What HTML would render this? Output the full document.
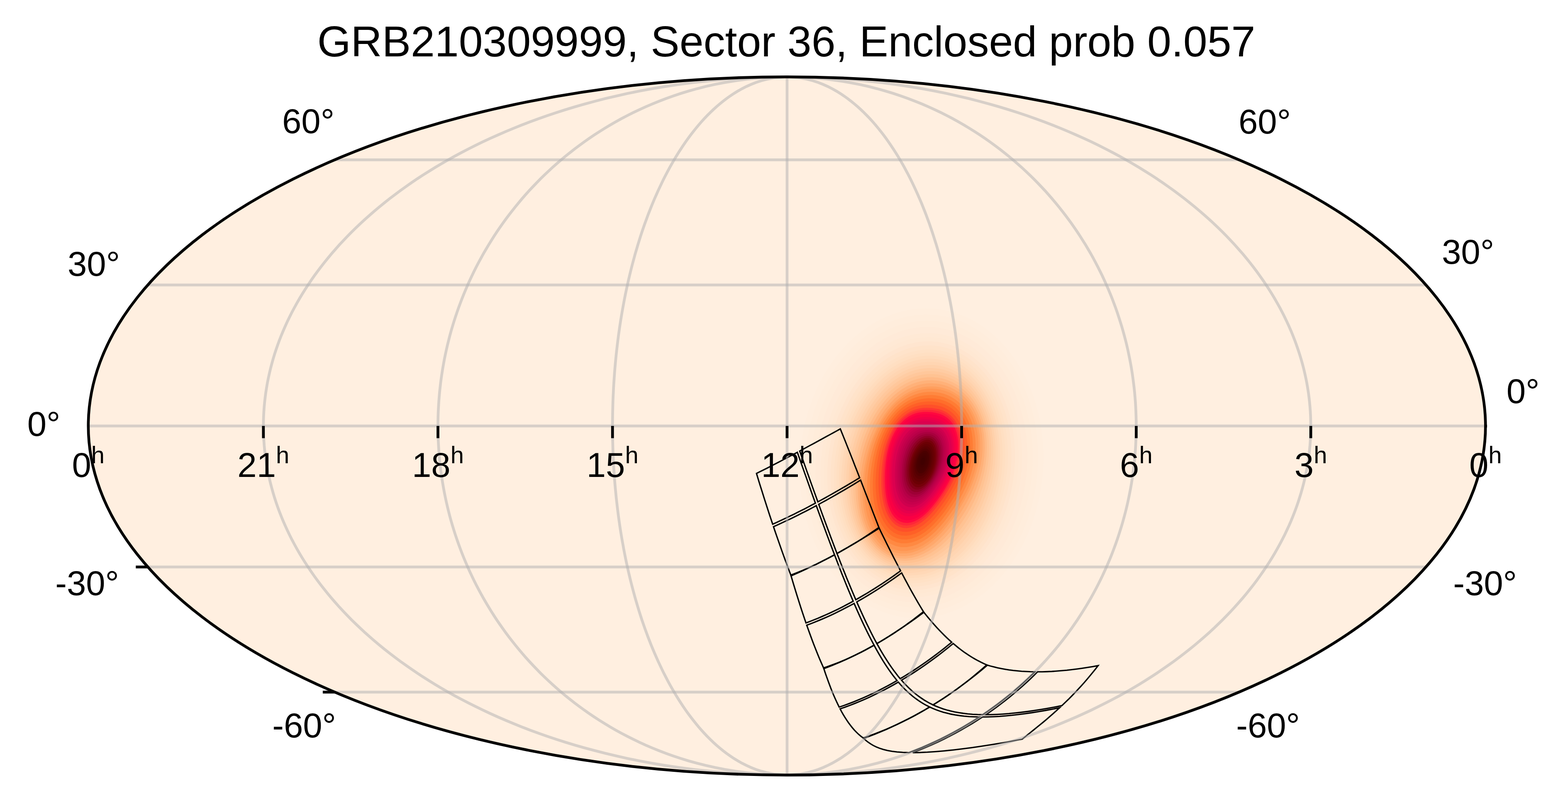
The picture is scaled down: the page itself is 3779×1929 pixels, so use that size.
<!DOCTYPE html><html lang="en"><head><meta charset="utf-8"><title>GRB210309999 skymap</title><style>html,body{margin:0;padding:0;background:#fff;font-family:"Liberation Sans",sans-serif}svg{display:block}</style></head><body>
<svg width="3779" height="1929" viewBox="0 0 3779 1929" role="img" aria-label="GRB210309999, Sector 36, Enclosed prob 0.057">
<title>GRB210309999, Sector 36, Enclosed prob 0.057</title><desc>Mollweide all-sky probability map with TESS Sector 36 camera footprint. RA ticks 0h 21h 18h 15h 12h 9h 6h 3h 0h; Dec labels 60, 30, 0, -30, -60 degrees.</desc>
<defs><clipPath id="c"><ellipse cx="1896.5" cy="1027.1" rx="1683.7" ry="841.7"/></clipPath></defs>
<rect width="3779" height="1929" fill="#fff"/>
<ellipse cx="1896.5" cy="1027.1" rx="1683.7" ry="841.7" fill="#ffefe0"/>
<g clip-path="url(#c)">
<path fill="#ffeede" d="M1928.7 1088.5L1926.9 1121.4L1927.4 1154.3L1930.1 1187L1935.2 1219.1L1942.4 1250.5L1951.9 1280.8L1963.5 1309.9L1977.1 1337.6L1992.7 1363.4L2010 1387.4L2029 1409.2L2049.6 1428.7L2071.5 1445.8L2094.5 1460.3L2118.6 1472L2143.5 1481L2168.9 1487L2194.8 1490.2L2220.8 1490.4L2246.8 1487.7L2272.6 1482.1L2298 1473.6L2322.7 1462.4L2346.6 1448.5L2369.5 1432L2391.2 1413.2L2411.6 1392L2430.5 1368.8L2447.7 1343.7L2463.2 1316.9L2476.8 1288.6L2488.5 1259.1L2498 1228.6L2505.5 1197.2L2510.9 1165.3L2514 1133.1L2515 1100.8L2513.7 1068.7L2510.3 1037L2504.8 1005.9L2497.1 975.6L2487.5 946.5L2475.8 918.6L2462.3 892.2L2447 867.5L2430.1 844.6L2411.7 823.8L2391.8 805L2370.7 788.6L2348.5 774.6L2325.4 763L2301.5 754.1L2277 747.8L2252 744.3L2226.9 743.4L2201.6 745.4L2176.5 750L2151.6 757.4L2127.3 767.5L2103.6 780.2L2080.7 795.4L2058.9 813.1L2038.2 833.1L2018.9 855.2L2001.1 879.3L1984.9 905.3L1970.5 933L1958 962.1L1947.5 992.4L1939 1023.8L1932.8 1055.9Z"/>
<path fill="#ffeddc" d="M1941.9 1087.2L1939.8 1118.9L1939.8 1150.6L1942.1 1182.1L1946.5 1213.2L1953.1 1243.5L1961.8 1273L1972.6 1301.2L1985.3 1328L1999.9 1353.1L2016.3 1376.5L2034.3 1397.7L2053.8 1416.8L2074.6 1433.5L2096.6 1447.7L2119.5 1459.2L2143.3 1468.1L2167.7 1474.2L2192.4 1477.4L2217.4 1477.8L2242.4 1475.3L2267.2 1470.1L2291.6 1462L2315.4 1451.3L2338.4 1438L2360.5 1422.2L2381.5 1404.1L2401.2 1383.7L2419.4 1361.4L2436.1 1337.2L2451.1 1311.4L2464.3 1284.2L2475.7 1255.7L2485 1226.3L2492.4 1196.1L2497.7 1165.4L2500.9 1134.3L2502 1103.2L2501.1 1072.3L2498 1041.8L2492.9 1011.9L2485.8 982.8L2476.7 954.7L2465.8 927.9L2453.1 902.5L2438.7 878.7L2422.7 856.7L2405.3 836.6L2386.5 818.5L2366.6 802.6L2345.5 789L2323.6 777.8L2300.9 769.1L2277.6 762.9L2253.9 759.3L2229.9 758.4L2205.8 760L2181.8 764.3L2158.1 771.2L2134.8 780.6L2112.1 792.6L2090.2 807L2069.2 823.7L2049.3 842.7L2030.6 863.7L2013.4 886.8L1997.7 911.6L1983.6 938L1971.3 965.8L1960.9 994.9L1952.5 1025L1946.1 1055.8Z"/>
<path fill="#ffecda" d="M1955 1085.9L1952.6 1116.4L1952.3 1146.9L1954 1177.3L1957.9 1207.3L1963.8 1236.6L1971.8 1265.1L1981.7 1292.4L1993.6 1318.4L2007.2 1342.9L2022.6 1365.5L2039.6 1386.3L2058 1404.9L2077.7 1421.2L2098.6 1435.1L2120.5 1446.5L2143.1 1455.2L2166.4 1461.3L2190.1 1464.6L2214 1465.2L2237.9 1463L2261.7 1458.1L2285.1 1450.5L2308 1440.2L2330.2 1427.5L2351.5 1412.4L2371.7 1395L2390.7 1375.5L2408.3 1354L2424.5 1330.7L2439 1305.9L2451.8 1279.7L2462.9 1252.3L2472 1224L2479.3 1195L2484.6 1165.4L2487.8 1135.6L2489.1 1105.7L2488.4 1076L2485.7 1046.6L2481 1017.9L2474.4 989.9L2466 963L2455.8 937.2L2443.9 912.8L2430.4 889.9L2415.4 868.7L2398.9 849.4L2381.2 832L2362.4 816.6L2342.5 803.5L2321.8 792.7L2300.3 784.1L2278.2 778.1L2255.7 774.4L2232.9 773.3L2210 774.7L2187.2 778.5L2164.6 784.9L2142.3 793.7L2120.6 804.9L2099.6 818.5L2079.5 834.3L2060.3 852.3L2042.4 872.3L2025.7 894.2L2010.4 917.8L1996.7 943L1984.6 969.6L1974.4 997.4L1966 1026.2L1959.5 1055.8Z"/>
<path fill="#ffead8" d="M1968.2 1084.6L1965.5 1113.8L1964.7 1143.2L1966 1172.5L1969.3 1201.4L1974.5 1229.7L1981.7 1257.2L1990.8 1283.6L2001.8 1308.8L2014.5 1332.6L2028.9 1354.6L2044.8 1374.8L2062.2 1392.9L2080.9 1408.9L2100.6 1422.5L2121.4 1433.7L2142.9 1442.4L2165.1 1448.4L2187.7 1451.8L2210.6 1452.6L2233.5 1450.6L2256.3 1446.1L2278.7 1438.9L2300.7 1429.2L2322 1417L2342.5 1402.6L2361.9 1385.9L2380.2 1367.2L2397.2 1346.6L2412.8 1324.2L2426.9 1300.4L2439.3 1275.2L2450.1 1248.9L2459 1221.7L2466.2 1193.8L2471.4 1165.5L2474.7 1136.8L2476.2 1108.1L2475.7 1079.6L2473.3 1051.5L2469.1 1023.9L2463.1 997.1L2455.3 971.2L2445.8 946.5L2434.7 923.1L2422.1 901.1L2408 880.8L2392.6 862.2L2375.9 845.4L2358.2 830.7L2339.5 818L2319.9 807.5L2299.6 799.2L2278.8 793.2L2257.5 789.5L2236 788.2L2214.3 789.3L2192.6 792.8L2171.1 798.6L2149.9 806.8L2129.2 817.3L2109.1 830.1L2089.8 844.9L2071.4 861.9L2054.1 880.8L2037.9 901.6L2023.1 924L2009.8 948L1998 973.3L1987.8 999.9L1979.4 1027.4L1972.9 1055.7Z"/>
<path fill="#ffe9d5" d="M1981.4 1083.3L1978.4 1111.3L1977.2 1139.5L1978 1167.6L1980.6 1195.4L1985.2 1222.7L1991.7 1249.3L2000 1274.9L2010 1299.3L2021.8 1322.3L2035.2 1343.7L2050.1 1363.3L2066.4 1381L2084 1396.6L2102.7 1409.9L2122.3 1420.9L2142.8 1429.5L2163.8 1435.6L2185.4 1439.1L2207.1 1440L2229 1438.3L2250.8 1434.1L2272.3 1427.3L2293.4 1418.1L2313.8 1406.5L2333.4 1392.7L2352.1 1376.8L2369.7 1358.9L2386.1 1339.1L2401.2 1317.8L2414.8 1294.9L2426.9 1270.8L2437.3 1245.5L2446 1219.5L2453 1192.7L2458.2 1165.5L2461.7 1138.1L2463.2 1110.6L2463 1083.3L2461 1056.3L2457.2 1029.9L2451.7 1004.2L2444.6 979.5L2435.8 955.8L2425.5 933.4L2413.7 912.4L2400.6 892.9L2386.2 875L2370.6 858.9L2354 844.7L2336.5 832.5L2318.1 822.3L2299 814.2L2279.4 808.3L2259.3 804.6L2239 803.1L2218.5 804L2198 807L2177.6 812.4L2157.4 819.9L2137.7 829.7L2118.6 841.6L2100.1 855.6L2082.5 871.5L2065.8 889.4L2050.2 909L2035.9 930.2L2022.9 953L2011.3 977.1L2001.3 1002.4L1992.9 1028.6L1986.3 1055.7Z"/>
<path fill="#ffe8d3" d="M1990.2 1082.4L1986.9 1109.7L1985.5 1137L1985.9 1164.4L1988.2 1191.5L1992.3 1218.1L1998.3 1244L2006 1269L2015.5 1292.9L2026.7 1315.4L2039.4 1336.4L2053.6 1355.7L2069.2 1373L2086.1 1388.4L2104 1401.5L2122.9 1412.4L2142.7 1420.9L2163 1427L2183.8 1430.5L2204.9 1431.6L2226.1 1430.1L2247.2 1426.1L2268 1419.6L2288.5 1410.7L2308.3 1399.6L2327.4 1386.2L2345.6 1370.7L2362.8 1353.4L2378.7 1334.2L2393.4 1313.4L2406.7 1291.2L2418.5 1267.8L2428.8 1243.3L2437.4 1218L2444.3 1192L2449.5 1165.6L2452.9 1138.9L2454.6 1112.2L2454.6 1085.7L2452.8 1059.5L2449.3 1033.9L2444.2 1009L2437.4 985L2429.1 962L2419.4 940.3L2408.2 919.8L2395.7 900.9L2382 883.5L2367.1 867.9L2351.2 854.1L2334.5 842.1L2316.9 832.1L2298.6 824.2L2279.8 818.4L2260.6 814.6L2241 813.1L2221.3 813.7L2201.5 816.5L2181.9 821.5L2162.5 828.7L2143.4 837.9L2124.9 849.3L2107 862.6L2089.8 877.9L2073.6 895.1L2058.4 913.9L2044.4 934.4L2031.6 956.3L2020.2 979.6L2010.2 1004L2001.9 1029.4L1995.2 1055.6Z"/>
<path fill="#ffe5cf" d="M1998.9 1081.6L1995.5 1108L1993.8 1134.6L1993.9 1161.2L1995.8 1187.6L1999.5 1213.5L2004.9 1238.8L2012.1 1263.2L2021 1286.5L2031.5 1308.5L2043.6 1329.1L2057.2 1348L2072 1365.1L2088.2 1380.2L2105.4 1393.2L2123.6 1403.9L2142.5 1412.4L2162.1 1418.4L2182.2 1422L2202.6 1423.1L2223.1 1421.8L2243.5 1418L2263.7 1411.9L2283.6 1403.3L2302.8 1392.6L2321.4 1379.6L2339.1 1364.7L2355.8 1347.8L2371.4 1329.2L2385.7 1309.1L2398.7 1287.5L2410.2 1264.8L2420.2 1241L2428.7 1216.4L2435.5 1191.2L2440.7 1165.6L2444.2 1139.7L2446 1113.9L2446.1 1088.1L2444.6 1062.8L2441.4 1037.9L2436.6 1013.8L2430.3 990.5L2422.5 968.2L2413.2 947.1L2402.6 927.3L2390.8 908.9L2377.7 892.1L2363.6 876.9L2348.4 863.4L2332.4 851.8L2315.7 842L2298.2 834.2L2280.2 828.4L2261.8 824.7L2243 823L2224.1 823.5L2205.1 826L2186.2 830.7L2167.5 837.4L2149.1 846.2L2131.2 857L2113.8 869.7L2097.2 884.3L2081.4 900.7L2066.6 918.8L2052.9 938.5L2040.3 959.6L2029.1 982.1L2019.2 1005.7L2010.9 1030.2L2004.1 1055.6Z"/>
<path fill="#ffe3ca" d="M2007.7 1080.7L2004.1 1106.3L2002.1 1132.1L2001.9 1158L2003.4 1183.6L2006.6 1208.9L2011.5 1233.5L2018.2 1257.3L2026.5 1280.1L2036.4 1301.7L2047.8 1321.8L2060.7 1340.4L2074.9 1357.1L2090.3 1372L2106.8 1384.8L2124.2 1395.4L2142.4 1403.8L2161.3 1409.8L2180.6 1413.5L2200.3 1414.7L2220.1 1413.6L2239.9 1410L2259.5 1404.1L2278.7 1396L2297.4 1385.6L2315.4 1373.1L2332.6 1358.6L2348.8 1342.3L2364 1324.3L2377.9 1304.8L2390.6 1283.9L2401.9 1261.8L2411.7 1238.8L2420 1214.9L2426.8 1190.5L2431.9 1165.6L2435.5 1140.6L2437.4 1115.5L2437.7 1090.6L2436.4 1066L2433.5 1041.9L2429 1018.5L2423.1 996L2415.8 974.4L2407.1 954L2397.1 934.8L2385.8 917L2373.5 900.6L2360 885.9L2345.7 872.8L2330.4 861.4L2314.4 851.9L2297.8 844.2L2280.6 838.5L2263 834.8L2245.1 833L2226.9 833.3L2208.7 835.5L2190.5 839.8L2172.5 846.2L2154.8 854.4L2137.5 864.7L2120.7 876.8L2104.6 890.8L2089.2 906.4L2074.8 923.8L2061.3 942.7L2049 963L2037.9 984.6L2028.2 1007.3L2019.8 1031L2013 1055.6Z"/>
<path fill="#ffe1c6" d="M2016.5 1079.8L2012.7 1104.6L2010.4 1129.6L2009.9 1154.7L2010.9 1179.7L2013.7 1204.2L2018.2 1228.3L2024.3 1251.5L2032 1273.7L2041.2 1294.8L2052 1314.5L2064.2 1332.7L2077.7 1349.2L2092.4 1363.8L2108.1 1376.4L2124.8 1386.9L2142.3 1395.2L2160.5 1401.2L2179.1 1405L2198 1406.3L2217.1 1405.4L2236.2 1402L2255.2 1396.4L2273.8 1388.6L2291.9 1378.6L2309.4 1366.5L2326 1352.6L2341.8 1336.8L2356.6 1319.4L2370.2 1300.4L2382.5 1280.2L2393.6 1258.8L2403.2 1236.5L2411.4 1213.4L2418 1189.7L2423.2 1165.7L2426.7 1141.4L2428.8 1117.1L2429.2 1093L2428.1 1069.2L2425.5 1045.9L2421.5 1023.3L2416 1001.5L2409.1 980.6L2400.9 960.8L2391.5 942.3L2380.9 925L2369.2 909.2L2356.5 894.8L2342.9 882.1L2328.4 871.1L2313.2 861.8L2297.4 854.3L2281 848.6L2264.2 844.8L2247.1 843L2229.7 843L2212.3 845L2194.9 849L2177.6 854.9L2160.5 862.7L2143.8 872.4L2127.6 883.9L2112 897.2L2097 912.1L2083 928.7L2069.8 946.8L2057.8 966.3L2046.8 987.1L2037.2 1009L2028.8 1031.8L2021.9 1055.5Z"/>
<path fill="#ffdfc2" d="M2023.1 1079.2L2019.1 1103.4L2016.7 1127.8L2015.8 1152.3L2016.6 1176.7L2019.1 1200.8L2023.1 1224.3L2028.8 1247.1L2036.1 1269L2044.9 1289.7L2055.2 1309.1L2066.8 1327L2079.8 1343.2L2093.9 1357.6L2109.1 1370.1L2125.3 1380.5L2142.2 1388.8L2159.8 1394.8L2177.9 1398.6L2196.3 1400L2214.9 1399.2L2233.5 1396L2252 1390.6L2270.1 1383L2287.8 1373.3L2304.8 1361.6L2321.2 1348L2336.6 1332.6L2351 1315.6L2364.4 1297.2L2376.5 1277.5L2387.3 1256.6L2396.8 1234.8L2404.9 1212.3L2411.5 1189.2L2416.6 1165.7L2420.2 1142L2422.3 1118.4L2422.9 1094.8L2422 1071.6L2419.6 1048.9L2415.8 1026.9L2410.6 1005.6L2404.1 985.3L2396.3 966L2387.3 947.9L2377.2 931L2366 915.6L2353.9 901.6L2340.8 889.1L2326.9 878.3L2312.3 869.2L2297.1 861.8L2281.3 856.1L2265.1 852.4L2248.6 850.4L2231.9 850.3L2215 852.2L2198.1 855.9L2181.3 861.5L2164.8 868.9L2148.5 878.2L2132.7 889.2L2117.5 902L2102.9 916.4L2089.1 932.4L2076.2 949.9L2064.3 968.8L2053.5 988.9L2043.9 1010.2L2035.6 1032.4L2028.6 1055.5Z"/>
<path fill="#ffdcbd" d="M2029.7 1078.5L2025.5 1102.1L2022.9 1125.9L2021.8 1149.9L2022.3 1173.8L2024.4 1197.3L2028.1 1220.4L2033.4 1242.7L2040.2 1264.2L2048.5 1284.5L2058.3 1303.6L2069.5 1321.2L2081.9 1337.2L2095.5 1351.5L2110.2 1363.8L2125.7 1374.1L2142.1 1382.3L2159.2 1388.4L2176.7 1392.2L2194.6 1393.7L2212.7 1393L2230.8 1390L2248.8 1384.8L2266.4 1377.5L2283.7 1368.1L2300.3 1356.7L2316.3 1343.5L2331.4 1328.5L2345.5 1311.9L2358.5 1293.9L2370.4 1274.7L2381.1 1254.4L2390.4 1233.1L2398.4 1211.1L2404.9 1188.6L2410 1165.7L2413.6 1142.7L2415.8 1119.6L2416.5 1096.7L2415.8 1074.1L2413.7 1051.9L2410.1 1030.5L2405.3 1009.7L2399.1 989.9L2391.7 971.1L2383.2 953.5L2373.5 937.1L2362.8 922L2351.2 908.3L2338.7 896.1L2325.4 885.5L2311.4 876.6L2296.8 869.3L2281.6 863.7L2266 859.9L2250.1 857.9L2234 857.7L2217.7 859.3L2201.4 862.7L2185.1 868L2169 875.1L2153.3 883.9L2137.9 894.5L2123 906.8L2108.8 920.7L2095.3 936.1L2082.6 953L2070.8 971.3L2060.1 990.8L2050.6 1011.5L2042.3 1033.1L2035.3 1055.5Z"/>
<path fill="#ffd8b7" d="M2036.3 1077.9L2032 1100.8L2029.1 1124.1L2027.8 1147.5L2028 1170.8L2029.8 1193.8L2033.1 1216.4L2037.9 1238.3L2044.3 1259.4L2052.2 1279.4L2061.5 1298.1L2072.1 1315.5L2084 1331.3L2097.1 1345.3L2111.2 1357.5L2126.2 1367.7L2142.1 1375.9L2158.5 1381.9L2175.5 1385.8L2192.9 1387.4L2210.5 1386.8L2228.1 1384L2245.5 1379.1L2262.8 1372L2279.6 1362.9L2295.8 1351.8L2311.4 1338.9L2326.1 1324.3L2339.9 1308.2L2352.7 1290.7L2364.4 1271.9L2374.8 1252.1L2384 1231.4L2391.9 1210L2398.3 1188.1L2403.4 1165.8L2407.1 1143.3L2409.3 1120.8L2410.2 1098.5L2409.6 1076.5L2407.7 1055L2404.5 1034L2399.9 1013.9L2394.1 994.6L2387.1 976.3L2379 959.1L2369.8 943.1L2359.7 928.4L2348.6 915.1L2336.6 903.2L2323.9 892.8L2310.5 884L2296.5 876.8L2281.9 871.3L2266.9 867.4L2251.6 865.3L2236.1 865L2220.4 866.4L2204.6 869.6L2188.9 874.6L2173.3 881.3L2158 889.7L2143 899.8L2128.5 911.6L2114.6 925L2101.4 939.8L2088.9 956.1L2077.4 973.8L2066.8 992.7L2057.3 1012.7L2049 1033.7L2042 1055.4Z"/>
<path fill="#ffd5b2" d="M2042.5 1079L2038.2 1101.2L2035.2 1123.8L2033.7 1146.6L2033.7 1169.3L2035.1 1191.9L2038 1214L2042.5 1235.6L2048.5 1256.4L2055.9 1276.2L2064.8 1294.8L2075.1 1312L2086.7 1327.6L2099.4 1341.5L2113.3 1353.5L2128 1363.4L2143.6 1371.2L2159.8 1376.8L2176.5 1380.2L2193.5 1381.4L2210.7 1380.3L2227.8 1377L2244.8 1371.7L2261.4 1364.3L2277.6 1355L2293.2 1343.9L2308.1 1331.2L2322.2 1316.9L2335.5 1301.2L2347.8 1284.3L2359 1266.2L2369.1 1247.1L2378.1 1227.3L2385.8 1206.7L2392.3 1185.5L2397.5 1164L2401.3 1142.3L2403.7 1120.4L2404.8 1098.7L2404.4 1077.3L2402.7 1056.2L2399.7 1035.8L2395.4 1016L2389.8 997.2L2383 979.3L2375 962.6L2366 947L2356 932.8L2345.2 920L2333.5 908.5L2321 898.6L2308 890.2L2294.3 883.4L2280.2 878.2L2265.7 874.6L2250.9 872.7L2235.8 872.5L2220.6 873.9L2205.4 877L2190.2 881.9L2175.1 888.4L2160.3 896.6L2145.9 906.5L2131.9 917.9L2118.4 930.9L2105.7 945.3L2093.7 961.1L2082.5 978.2L2072.3 996.5L2063.1 1015.9L2055 1036.2L2048.1 1057.3Z"/>
<path fill="#ffd1ab" d="M2048.7 1080.1L2044.4 1101.6L2041.3 1123.5L2039.6 1145.7L2039.3 1167.8L2040.4 1189.9L2043 1211.7L2047.1 1232.9L2052.6 1253.4L2059.7 1273L2068.2 1291.4L2078.1 1308.5L2089.3 1324L2101.8 1337.7L2115.3 1349.4L2129.9 1359.1L2145.2 1366.5L2161.1 1371.7L2177.5 1374.7L2194.2 1375.3L2210.9 1373.8L2227.6 1370.1L2244 1364.3L2260 1356.6L2275.6 1347.2L2290.6 1336.1L2304.8 1323.5L2318.4 1309.5L2331 1294.2L2342.8 1277.9L2353.6 1260.5L2363.5 1242.2L2372.2 1223.1L2379.8 1203.3L2386.3 1183L2391.5 1162.3L2395.4 1141.2L2398.1 1120.1L2399.3 1099L2399.2 1078L2397.8 1057.5L2395 1037.5L2390.8 1018.2L2385.4 999.8L2378.8 982.4L2371 966.1L2362.2 951L2352.4 937.2L2341.8 924.9L2330.3 913.9L2318.2 904.4L2305.4 896.5L2292.2 890L2278.5 885.1L2264.4 881.8L2250.1 880.1L2235.5 879.9L2220.8 881.4L2206.1 884.5L2191.5 889.2L2176.9 895.6L2162.7 903.6L2148.7 913.1L2135.2 924.2L2122.3 936.8L2110 950.8L2098.4 966.1L2087.6 982.7L2077.7 1000.4L2068.8 1019.1L2061 1038.7L2054.3 1059.1Z"/>
<path fill="#ffcca3" d="M2054.9 1081.2L2050.6 1102L2047.4 1123.3L2045.6 1144.7L2045 1166.4L2045.8 1187.9L2048 1209.3L2051.7 1230.2L2056.8 1250.4L2063.4 1269.8L2071.5 1288.1L2081.1 1305L2092 1320.3L2104.1 1333.8L2117.4 1345.3L2131.7 1354.7L2146.7 1361.8L2162.4 1366.6L2178.5 1369.1L2194.8 1369.3L2211.1 1367.2L2227.3 1363.1L2243.2 1356.9L2258.7 1349L2273.6 1339.4L2287.9 1328.2L2301.6 1315.8L2314.5 1302L2326.6 1287.2L2337.9 1271.4L2348.3 1254.7L2357.8 1237.2L2366.3 1218.9L2373.8 1200L2380.3 1180.5L2385.5 1160.5L2389.6 1140.2L2392.4 1119.7L2393.9 1099.2L2394 1078.8L2392.8 1058.8L2390.2 1039.2L2386.3 1020.4L2381.1 1002.4L2374.6 985.4L2367 969.6L2358.4 954.9L2348.8 941.7L2338.4 929.8L2327.2 919.3L2315.3 910.3L2302.9 902.7L2290 896.6L2276.8 892.1L2263.1 889L2249.3 887.4L2235.2 887.4L2221.1 888.9L2206.9 891.9L2192.7 896.6L2178.7 902.8L2165 910.5L2151.6 919.8L2138.6 930.5L2126.1 942.7L2114.2 956.3L2103.1 971.1L2092.7 987.1L2083.2 1004.2L2074.6 1022.3L2067 1041.2L2060.4 1060.9Z"/>
<path fill="#ffc79b" d="M2061.1 1082.3L2056.8 1102.4L2053.6 1123L2051.5 1143.8L2050.7 1164.9L2051.1 1186L2053 1206.9L2056.2 1227.5L2061 1247.5L2067.2 1266.7L2074.9 1284.8L2084.1 1301.5L2094.6 1316.7L2106.5 1330L2119.5 1341.3L2133.5 1350.4L2148.3 1357.1L2163.7 1361.5L2179.5 1363.5L2195.4 1363.2L2211.3 1360.7L2227.1 1356.1L2242.4 1349.6L2257.3 1341.3L2271.6 1331.5L2285.3 1320.4L2298.3 1308L2310.6 1294.6L2322.1 1280.2L2332.9 1265L2342.9 1249L2352.1 1232.2L2360.4 1214.7L2367.8 1196.6L2374.2 1177.9L2379.6 1158.7L2383.8 1139.2L2386.8 1119.4L2388.5 1099.4L2388.8 1079.6L2387.8 1060.1L2385.5 1041L2381.7 1022.6L2376.7 1005L2370.4 988.5L2363 973L2354.6 958.9L2345.2 946.1L2335 934.7L2324 924.7L2312.5 916.1L2300.4 909L2287.9 903.3L2275 899L2261.9 896.2L2248.5 894.8L2234.9 894.8L2221.3 896.4L2207.6 899.4L2194 903.9L2180.6 909.9L2167.3 917.4L2154.4 926.4L2141.9 936.9L2129.9 948.7L2118.5 961.8L2107.8 976.1L2097.8 991.6L2088.7 1008.1L2080.4 1025.5L2073 1043.7L2066.6 1062.7Z"/>
<path fill="#ffc292" d="M2067.4 1083.4L2063 1102.8L2059.7 1122.7L2057.4 1142.9L2056.3 1163.4L2056.5 1184L2057.9 1204.5L2060.8 1224.7L2065.1 1244.5L2070.9 1263.5L2078.3 1281.4L2087.1 1298L2097.3 1313L2108.9 1326.2L2121.6 1337.2L2135.3 1346L2149.9 1352.4L2165 1356.4L2180.5 1358L2196 1357.2L2211.6 1354.2L2226.8 1349.1L2241.6 1342.2L2256 1333.7L2269.7 1323.7L2282.7 1312.5L2295.1 1300.3L2306.7 1287.2L2317.7 1273.3L2328 1258.6L2337.5 1243.2L2346.4 1227.2L2354.5 1210.6L2361.8 1193.3L2368.2 1175.4L2373.6 1157L2378 1138.1L2381.1 1119L2383.1 1099.7L2383.6 1080.4L2382.9 1061.3L2380.7 1042.7L2377.2 1024.7L2372.4 1007.6L2366.3 991.5L2359 976.5L2350.8 962.8L2341.6 950.5L2331.6 939.6L2320.9 930L2309.6 921.9L2297.9 915.2L2285.8 909.9L2273.3 905.9L2260.6 903.3L2247.7 902.1L2234.7 902.3L2221.5 903.8L2208.4 906.8L2195.3 911.2L2182.4 917.1L2169.6 924.4L2157.2 933.1L2145.2 943.2L2133.7 954.6L2122.8 967.3L2112.5 981.1L2102.9 996L2094.1 1011.9L2086.1 1028.7L2079 1046.2L2072.7 1064.5Z"/>
<path fill="#ffba87" d="M2073.6 1084.5L2069.2 1103.2L2065.8 1122.4L2063.3 1142L2062 1161.9L2061.8 1182L2062.9 1202.1L2065.4 1222L2069.3 1241.5L2074.7 1260.3L2081.6 1278.1L2090.1 1294.5L2100 1309.4L2111.2 1322.4L2123.7 1333.2L2137.2 1341.7L2151.4 1347.8L2166.3 1351.3L2181.4 1352.4L2196.7 1351.1L2211.8 1347.6L2226.6 1342.1L2240.9 1334.8L2254.6 1326L2267.7 1315.9L2280.1 1304.7L2291.8 1292.6L2302.8 1279.7L2313.2 1266.3L2323 1252.2L2332.2 1237.5L2340.7 1222.2L2348.6 1206.4L2355.8 1189.9L2362.2 1172.9L2367.7 1155.2L2372.2 1137.1L2375.5 1118.6L2377.6 1099.9L2378.4 1081.2L2377.9 1062.6L2376 1044.5L2372.6 1026.9L2368 1010.2L2362.1 994.5L2355 980L2346.9 966.8L2337.9 954.9L2328.2 944.5L2317.7 935.4L2306.8 927.7L2295.4 921.4L2283.6 916.5L2271.6 912.8L2259.4 910.5L2246.9 909.5L2234.4 909.7L2221.8 911.3L2209.2 914.3L2196.6 918.6L2184.2 924.2L2172 931.3L2160.1 939.7L2148.6 949.5L2137.5 960.5L2127.1 972.8L2117.2 986.1L2108 1000.5L2099.6 1015.7L2091.9 1031.9L2085 1048.7L2078.8 1066.3Z"/>
<path fill="#ffb179" d="M2079.8 1085.6L2075.4 1103.6L2071.9 1122.1L2069.2 1141.1L2067.6 1160.4L2067.1 1180L2067.9 1199.7L2069.9 1219.3L2073.4 1238.5L2078.4 1257.1L2085 1274.7L2093.1 1291L2102.6 1305.7L2113.6 1318.5L2125.8 1329.1L2139 1337.4L2153 1343.1L2167.6 1346.2L2182.4 1346.9L2197.3 1345.1L2212 1341.1L2226.3 1335.1L2240.1 1327.5L2253.2 1318.3L2265.7 1308L2277.5 1296.8L2288.5 1284.9L2299 1272.3L2308.8 1259.3L2318.1 1245.7L2326.8 1231.8L2335 1217.3L2342.7 1202.2L2349.8 1186.6L2356.2 1170.3L2361.7 1153.5L2366.3 1136.1L2369.9 1118.3L2372.2 1100.2L2373.3 1082L2372.9 1063.9L2371.2 1046.2L2368.1 1029.1L2363.6 1012.8L2357.9 997.6L2351 983.5L2343.1 970.8L2334.3 959.4L2324.8 949.4L2314.6 940.8L2303.9 933.6L2292.9 927.7L2281.5 923.1L2269.9 919.8L2258.1 917.7L2246.1 916.8L2234.1 917.2L2222 918.8L2209.9 921.7L2197.9 925.9L2186 931.4L2174.3 938.2L2162.9 946.4L2151.9 955.8L2141.4 966.5L2131.4 978.2L2121.9 991.1L2113.1 1004.9L2105 1019.6L2097.6 1035.1L2090.9 1051.3L2085 1068.1Z"/>
<path fill="#ffa86c" d="M2086 1086.7L2081.6 1104L2078 1121.8L2075.2 1140.2L2073.3 1159L2072.5 1178.1L2072.8 1197.3L2074.5 1216.6L2077.6 1235.6L2082.2 1253.9L2088.3 1271.4L2096.1 1287.5L2105.3 1302.1L2116 1314.7L2127.9 1325.1L2140.8 1333L2154.6 1338.4L2168.9 1341.1L2183.4 1341.3L2197.9 1339L2212.2 1334.6L2226.1 1328.2L2239.3 1320.1L2251.9 1310.7L2263.7 1300.2L2274.8 1289L2285.3 1277.1L2295.1 1264.9L2304.3 1252.3L2313.1 1239.3L2321.5 1226L2329.4 1212.3L2336.8 1198L2343.8 1183.2L2350.1 1167.8L2355.8 1151.7L2360.5 1135.1L2364.2 1117.9L2366.8 1100.4L2368.1 1082.7L2368 1065.2L2366.5 1047.9L2363.6 1031.3L2359.3 1015.4L2353.8 1000.6L2347 987L2339.3 974.7L2330.7 963.8L2321.4 954.3L2311.5 946.1L2301.1 939.4L2290.4 933.9L2279.4 929.7L2268.2 926.7L2256.8 924.9L2245.4 924.2L2233.8 924.6L2222.2 926.3L2210.7 929.1L2199.2 933.2L2187.8 938.6L2176.6 945.2L2165.8 953L2155.3 962.1L2145.2 972.4L2135.6 983.7L2126.6 996.1L2118.3 1009.3L2110.5 1023.4L2103.4 1038.3L2096.9 1053.8L2091.1 1069.9Z"/>
<path fill="#ff9f5e" d="M2092.1 1087.5L2087.8 1104.1L2084.2 1121.3L2081.3 1139L2079.3 1157.2L2078.3 1175.7L2078.4 1194.4L2079.8 1213.1L2082.5 1231.6L2086.7 1249.6L2092.5 1266.7L2099.8 1282.6L2108.6 1296.9L2118.8 1309.2L2130.3 1319.4L2142.8 1327L2156.1 1332.1L2170 1334.6L2184.1 1334.5L2198.2 1332L2212 1327.3L2225.3 1320.7L2238 1312.5L2250 1303L2261.3 1292.6L2271.8 1281.5L2281.7 1269.9L2290.9 1258L2299.7 1245.8L2308 1233.4L2316 1220.8L2323.6 1207.7L2330.8 1194.2L2337.7 1180.2L2343.9 1165.5L2349.5 1150.2L2354.3 1134.2L2358.2 1117.8L2360.9 1100.9L2362.3 1083.8L2362.4 1066.8L2361.1 1050.1L2358.5 1034L2354.4 1018.6L2349.1 1004.3L2342.7 991.1L2335.2 979.3L2326.9 968.8L2317.9 959.8L2308.3 952.1L2298.3 945.7L2288 940.6L2277.5 936.7L2266.7 934L2255.9 932.3L2244.9 931.7L2233.9 932.2L2222.9 933.8L2211.9 936.5L2200.9 940.3L2190 945.4L2179.3 951.6L2168.9 959.1L2158.8 967.8L2149.2 977.6L2140 988.5L2131.3 1000.3L2123.3 1013.1L2115.8 1026.6L2109 1040.9L2102.7 1055.8L2097.1 1071.4Z"/>
<path fill="#ff9653" d="M2096 1087.6L2091.9 1103.9L2088.4 1120.7L2085.7 1137.9L2083.8 1155.6L2082.9 1173.5L2083 1191.7L2084.3 1209.8L2086.9 1227.8L2090.9 1245.2L2096.3 1261.8L2103.2 1277.3L2111.6 1291.3L2121.4 1303.4L2132.4 1313.3L2144.4 1320.9L2157.2 1325.9L2170.6 1328.4L2184.2 1328.4L2197.8 1326L2211.2 1321.5L2224.1 1315.1L2236.4 1307.1L2248.1 1297.8L2259 1287.7L2269.3 1276.9L2278.9 1265.6L2287.9 1254.1L2296.4 1242.3L2304.5 1230.2L2312.3 1217.9L2319.7 1205.3L2326.7 1192.2L2333.4 1178.6L2339.5 1164.3L2345 1149.4L2349.8 1133.9L2353.6 1117.9L2356.3 1101.5L2357.8 1084.9L2358 1068.4L2356.8 1052.1L2354.3 1036.4L2350.5 1021.5L2345.5 1007.5L2339.3 994.7L2332.2 983.2L2324.2 973L2315.5 964.2L2306.3 956.8L2296.7 950.6L2286.7 945.6L2276.5 941.9L2266.2 939.2L2255.7 937.5L2245.2 936.9L2234.6 937.3L2223.9 938.7L2213.2 941.2L2202.6 944.7L2192 949.5L2181.6 955.4L2171.4 962.4L2161.5 970.7L2152 980.1L2143 990.6L2134.5 1002.2L2126.5 1014.6L2119.1 1027.9L2112.4 1041.9L2106.3 1056.6L2100.8 1071.8Z"/>
<path fill="#ff8942" d="M2101.9 1087.8L2098 1103.6L2094.8 1119.7L2092.3 1136.3L2090.6 1153.1L2089.8 1170.3L2089.9 1187.6L2091 1204.9L2093.4 1222L2097 1238.6L2102 1254.6L2108.4 1269.4L2116.1 1282.8L2125.2 1294.6L2135.5 1304.2L2146.8 1311.6L2158.8 1316.6L2171.4 1319.2L2184.3 1319.3L2197.3 1317L2210 1312.7L2222.3 1306.6L2234.1 1299L2245.2 1290.1L2255.7 1280.4L2265.4 1270L2274.6 1259.3L2283.2 1248.2L2291.4 1236.9L2299.2 1225.4L2306.6 1213.7L2313.8 1201.6L2320.6 1189.1L2327 1176.1L2332.9 1162.5L2338.3 1148.3L2342.9 1133.5L2346.6 1118.2L2349.4 1102.5L2350.9 1086.6L2351.3 1070.8L2350.4 1055.2L2348.2 1040.1L2344.7 1025.8L2340 1012.4L2334.3 1000.1L2327.6 989.1L2320.1 979.3L2311.9 970.9L2303.2 963.8L2294.1 957.9L2284.7 953.2L2275.1 949.6L2265.3 947L2255.5 945.4L2245.5 944.7L2235.5 945L2225.4 946.1L2215.3 948.2L2205.1 951.4L2195.1 955.6L2185 960.9L2175.2 967.4L2165.6 975.1L2156.3 983.9L2147.5 993.9L2139.1 1004.9L2131.3 1016.9L2124.1 1029.8L2117.6 1043.4L2111.7 1057.7L2106.5 1072.5Z"/>
<path fill="#ff7c34" d="M2107.8 1088L2104.1 1103.2L2101.2 1118.8L2098.9 1134.6L2097.4 1150.7L2096.6 1167L2096.7 1183.5L2097.8 1199.9L2099.9 1216.2L2103.2 1232L2107.7 1247.3L2113.5 1261.5L2120.7 1274.4L2129 1285.7L2138.6 1295.1L2149.1 1302.4L2160.4 1307.3L2172.3 1309.9L2184.5 1310.1L2196.7 1308.1L2208.8 1304L2220.5 1298.2L2231.7 1290.9L2242.3 1282.4L2252.3 1273.1L2261.6 1263.2L2270.4 1252.9L2278.6 1242.3L2286.4 1231.6L2293.9 1220.6L2301 1209.4L2307.9 1198L2314.4 1186L2320.6 1173.6L2326.4 1160.7L2331.5 1147.1L2336 1133L2339.7 1118.4L2342.5 1103.4L2344.1 1088.3L2344.6 1073.2L2343.9 1058.3L2342 1043.8L2338.8 1030.1L2334.6 1017.3L2329.3 1005.6L2323 995L2316 985.6L2308.4 977.6L2300.2 970.8L2291.6 965.2L2282.8 960.8L2273.7 957.3L2264.5 954.9L2255.2 953.3L2245.8 952.6L2236.4 952.7L2226.9 953.6L2217.3 955.3L2207.7 958L2198.1 961.7L2188.5 966.5L2179 972.4L2169.7 979.4L2160.6 987.7L2152 997.2L2143.8 1007.7L2136.2 1019.2L2129.1 1031.7L2122.8 1044.9L2117.1 1058.8L2112.1 1073.2Z"/>
<path fill="#ff6e2b" d="M2113.6 1088.2L2110.3 1102.9L2107.6 1117.8L2105.5 1133L2104.2 1148.3L2103.5 1163.8L2103.6 1179.4L2104.5 1194.9L2106.4 1210.4L2109.3 1225.5L2113.4 1240L2118.7 1253.6L2125.2 1266L2132.9 1276.9L2141.7 1286.1L2151.5 1293.2L2162 1298L2173.2 1300.6L2184.6 1300.9L2196.2 1299.1L2207.6 1295.2L2218.7 1289.7L2229.4 1282.8L2239.4 1274.7L2248.9 1265.8L2257.8 1256.3L2266.2 1246.5L2274 1236.5L2281.5 1226.2L2288.6 1215.8L2295.4 1205.2L2302 1194.3L2308.3 1183L2314.2 1171.2L2319.8 1158.9L2324.8 1146L2329.2 1132.6L2332.8 1118.7L2335.6 1104.4L2337.3 1090L2337.9 1075.5L2337.4 1061.3L2335.8 1047.6L2333 1034.5L2329.1 1022.2L2324.2 1011L2318.5 1000.9L2311.9 992L2304.8 984.3L2297.1 977.8L2289.1 972.5L2280.8 968.3L2272.3 965.1L2263.7 962.7L2255 961.2L2246.2 960.4L2237.3 960.3L2228.4 961L2219.4 962.4L2210.3 964.6L2201.1 967.8L2191.9 972L2182.8 977.3L2173.7 983.8L2164.9 991.5L2156.5 1000.4L2148.5 1010.4L2141 1021.5L2134.1 1033.6L2127.9 1046.4L2122.5 1059.8L2117.7 1073.8Z"/>
<path fill="#ff6027" d="M2119.5 1088.4L2116.4 1102.5L2114 1116.9L2112.1 1131.3L2110.9 1145.9L2110.3 1160.5L2110.4 1175.3L2111.3 1190L2112.9 1204.6L2115.5 1218.9L2119.1 1232.7L2123.8 1245.7L2129.7 1257.6L2136.7 1268.1L2144.8 1277L2153.8 1283.9L2163.6 1288.7L2174 1291.3L2184.8 1291.8L2195.6 1290.1L2206.4 1286.5L2216.9 1281.3L2227 1274.7L2236.6 1267L2245.6 1258.5L2254 1249.5L2261.9 1240.2L2269.4 1230.6L2276.5 1220.9L2283.3 1211L2289.8 1201L2296.1 1190.6L2302.1 1179.9L2307.8 1168.7L2313.2 1157.1L2318 1144.8L2322.3 1132.1L2325.9 1118.9L2328.6 1105.4L2330.5 1091.6L2331.2 1077.9L2331 1064.4L2329.6 1051.3L2327.1 1038.8L2323.6 1027.1L2319.2 1016.4L2313.9 1006.7L2307.9 998.3L2301.2 991L2294.1 984.9L2286.6 979.9L2278.8 975.9L2270.9 972.8L2262.8 970.6L2254.7 969.1L2246.5 968.2L2238.2 968L2229.9 968.4L2221.4 969.5L2212.8 971.3L2204.1 973.9L2195.3 977.6L2186.5 982.3L2177.8 988.2L2169.2 995.3L2161 1003.7L2153.1 1013.2L2145.8 1023.8L2139.1 1035.5L2133.1 1047.9L2127.8 1060.9L2123.3 1074.5Z"/>
<path fill="#ff5029" d="M2125.4 1088.6L2122.5 1102.2L2120.3 1115.9L2118.7 1129.7L2117.7 1143.5L2117.2 1157.3L2117.3 1171.2L2118 1185L2119.4 1198.8L2121.7 1212.3L2124.8 1225.4L2129 1237.8L2134.2 1249.2L2140.6 1259.3L2147.9 1267.9L2156.2 1274.7L2165.2 1279.4L2174.9 1282.1L2184.9 1282.6L2195.1 1281.1L2205.2 1277.8L2215.1 1272.8L2224.6 1266.6L2233.7 1259.3L2242.2 1251.2L2250.2 1242.7L2257.7 1233.8L2264.8 1224.7L2271.5 1215.5L2278 1206.2L2284.2 1196.7L2290.2 1186.9L2295.9 1176.8L2301.4 1166.3L2306.6 1155.2L2311.3 1143.7L2315.5 1131.6L2319 1119.1L2321.7 1106.3L2323.6 1093.3L2324.6 1080.3L2324.5 1067.4L2323.4 1055L2321.3 1043.1L2318.2 1032L2314.2 1021.8L2309.3 1012.6L2303.8 1004.6L2297.6 997.7L2291 991.9L2284 987.2L2276.8 983.4L2269.5 980.6L2262 978.5L2254.4 977L2246.8 976.1L2239.2 975.7L2231.4 975.8L2223.4 976.5L2215.4 977.9L2207.1 980.1L2198.8 983.1L2190.3 987.3L2181.9 992.6L2173.5 999.1L2165.5 1006.9L2157.8 1016L2150.6 1026.2L2144.1 1037.4L2138.3 1049.4L2133.2 1062L2128.9 1075.2Z"/>
<path fill="#ff3931" d="M2131.3 1088.8L2128.7 1101.9L2126.7 1115L2125.3 1128L2124.5 1141L2124.1 1154.1L2124.1 1167.1L2124.7 1180L2125.9 1193L2127.8 1205.7L2130.5 1218.1L2134.2 1229.9L2138.8 1240.8L2144.4 1250.5L2151 1258.8L2158.5 1265.4L2166.8 1270.1L2175.8 1272.8L2185.1 1273.4L2194.6 1272.1L2204.1 1269L2213.3 1264.4L2222.3 1258.4L2230.8 1251.5L2238.8 1243.9L2246.4 1235.8L2253.5 1227.4L2260.2 1218.9L2266.5 1210.2L2272.7 1201.4L2278.6 1192.5L2284.3 1183.3L2289.8 1173.8L2295 1163.8L2300 1153.4L2304.5 1142.5L2308.6 1131.2L2312.1 1119.4L2314.8 1107.3L2316.8 1095L2317.9 1082.7L2318 1070.5L2317.2 1058.7L2315.4 1047.4L2312.7 1036.9L2309.1 1027.2L2304.7 1018.5L2299.7 1010.9L2294 1004.4L2287.9 998.9L2281.5 994.5L2274.9 991L2268 988.3L2261.2 986.3L2254.2 984.9L2247.2 983.9L2240.1 983.4L2232.9 983.3L2225.5 983.6L2217.9 984.5L2210.1 986.2L2202.2 988.7L2194.1 992.2L2185.9 996.9L2177.9 1002.9L2170 1010.2L2162.5 1018.7L2155.5 1028.5L2149.1 1039.2L2143.5 1050.9L2138.6 1063.1L2134.5 1075.8Z"/>
<path fill="#ff2639" d="M2135.2 1088.9L2132.8 1101.6L2131 1114.3L2129.8 1126.9L2129 1139.4L2128.6 1151.9L2128.7 1164.3L2129.2 1176.7L2130.3 1189.1L2131.9 1201.3L2134.3 1213.2L2137.6 1224.6L2141.8 1235.2L2147 1244.7L2153.1 1252.8L2160.1 1259.3L2167.9 1263.9L2176.3 1266.6L2185.2 1267.3L2194.2 1266.1L2203.3 1263.2L2212.1 1258.7L2220.7 1253L2228.9 1246.4L2236.6 1239L2243.8 1231.2L2250.6 1223.2L2257.1 1215L2263.2 1206.6L2269.1 1198.2L2274.8 1189.6L2280.3 1180.8L2285.7 1171.7L2290.8 1162.2L2295.6 1152.2L2300 1141.8L2304 1130.9L2307.5 1119.6L2310.2 1107.9L2312.3 1096.1L2313.4 1084.2L2313.7 1072.5L2313.1 1061.1L2311.5 1050.3L2309.1 1040.1L2305.8 1030.8L2301.7 1022.4L2297 1015.1L2291.7 1008.8L2285.9 1003.6L2279.8 999.4L2273.5 996L2267.1 993.5L2260.6 991.5L2254 990.1L2247.4 989.1L2240.7 988.5L2233.9 988.2L2226.8 988.3L2219.6 989L2212.2 990.3L2204.5 992.4L2196.6 995.5L2188.6 999.8L2180.7 1005.4L2173 1012.3L2165.6 1020.6L2158.7 1030L2152.4 1040.5L2146.9 1051.9L2142.2 1063.9L2138.3 1076.3Z"/>
<path fill="#ff083f" d="M2138.8 1089.8L2136.5 1102L2134.8 1114.1L2133.7 1126.2L2132.9 1138.2L2132.6 1150.2L2132.7 1162.1L2133.2 1174L2134.1 1185.8L2135.7 1197.6L2138 1209L2141.1 1219.9L2145.1 1230.1L2150 1239.2L2155.9 1247L2162.6 1253.2L2170.1 1257.7L2178.1 1260.3L2186.6 1261L2195.3 1259.8L2204 1257L2212.5 1252.7L2220.7 1247.3L2228.5 1240.9L2235.9 1233.9L2242.8 1226.4L2249.4 1218.6L2255.6 1210.7L2261.5 1202.8L2267.1 1194.7L2272.6 1186.5L2277.9 1178L2283 1169.3L2287.9 1160.1L2292.5 1150.6L2296.8 1140.6L2300.7 1130.1L2304 1119.3L2306.6 1108.1L2308.6 1096.7L2309.7 1085.4L2310 1074.1L2309.4 1063.2L2307.9 1052.8L2305.6 1043L2302.4 1034.1L2298.5 1026.1L2294 1019L2288.9 1013L2283.4 1008L2277.6 1004L2271.6 1000.8L2265.4 998.3L2259.2 996.4L2252.9 995.1L2246.6 994.1L2240.1 993.5L2233.6 993.2L2226.9 993.3L2219.9 993.9L2212.8 995.1L2205.4 997.1L2197.9 1000.1L2190.2 1004.2L2182.6 1009.6L2175.1 1016.2L2168 1024.1L2161.4 1033.1L2155.4 1043.2L2150.1 1054.1L2145.6 1065.7L2141.8 1077.6Z"/>
<path fill="#fa0043" d="M2142.4 1090.7L2140.2 1102.4L2138.6 1114L2137.5 1125.6L2136.8 1137.1L2136.5 1148.5L2136.6 1159.9L2137 1171.3L2138 1182.7L2139.5 1193.9L2141.7 1204.8L2144.6 1215.3L2148.5 1225L2153.2 1233.7L2158.8 1241.2L2165.2 1247.2L2172.4 1251.4L2180.1 1253.9L2188.2 1254.6L2196.5 1253.5L2204.8 1250.8L2213 1246.7L2220.8 1241.5L2228.3 1235.4L2235.4 1228.6L2242 1221.5L2248.3 1214L2254.2 1206.5L2259.9 1198.9L2265.3 1191.1L2270.5 1183.2L2275.6 1175.2L2280.5 1166.8L2285.2 1158.1L2289.6 1148.9L2293.7 1139.3L2297.4 1129.3L2300.6 1118.9L2303.1 1108.2L2305 1097.4L2306.1 1086.5L2306.3 1075.7L2305.8 1065.3L2304.3 1055.3L2302.1 1045.9L2299.1 1037.4L2295.4 1029.7L2291 1022.9L2286.2 1017.2L2280.9 1012.4L2275.3 1008.5L2269.6 1005.4L2263.7 1003.1L2257.7 1001.3L2251.7 1000L2245.6 999.1L2239.4 998.5L2233.2 998.2L2226.7 998.3L2220.1 998.9L2213.3 1000L2206.2 1002L2199 1004.8L2191.6 1008.8L2184.4 1013.9L2177.2 1020.2L2170.4 1027.8L2164.1 1036.5L2158.3 1046.1L2153.2 1056.6L2148.9 1067.6L2145.3 1079Z"/>
<path fill="#f00048" d="M2147.9 1092L2145.8 1102.9L2144.3 1113.8L2143.3 1124.6L2142.6 1135.3L2142.3 1146L2142.4 1156.7L2142.8 1167.3L2143.7 1177.9L2145.1 1188.3L2147.2 1198.6L2149.9 1208.3L2153.5 1217.4L2157.9 1225.5L2163.1 1232.5L2169.1 1238.1L2175.8 1242.1L2183 1244.4L2190.6 1245L2198.3 1244L2206.1 1241.5L2213.7 1237.7L2221 1232.8L2228 1227.1L2234.6 1220.8L2240.8 1214.1L2246.7 1207.2L2252.2 1200.1L2257.5 1193L2262.5 1185.8L2267.4 1178.4L2272.1 1170.9L2276.7 1163.1L2281.1 1154.9L2285.2 1146.4L2289.1 1137.4L2292.5 1128.1L2295.4 1118.4L2297.8 1108.4L2299.6 1098.3L2300.6 1088.1L2300.8 1078.1L2300.3 1068.3L2299 1059L2296.9 1050.3L2294.1 1042.3L2290.6 1035.1L2286.6 1028.8L2282 1023.4L2277.1 1019L2271.9 1015.3L2266.5 1012.5L2261 1010.3L2255.4 1008.6L2249.8 1007.4L2244.2 1006.6L2238.4 1006L2232.6 1005.7L2226.6 1005.8L2220.4 1006.4L2214 1007.4L2207.4 1009.2L2200.6 1011.9L2193.8 1015.6L2187 1020.4L2180.3 1026.3L2174 1033.3L2168.1 1041.4L2162.7 1050.4L2157.9 1060.2L2153.9 1070.5L2150.6 1081.2Z"/>
<path fill="#e6004c" d="M2151.5 1092.9L2149.6 1103.3L2148.1 1113.7L2147.1 1124L2146.5 1134.2L2146.2 1144.3L2146.3 1154.5L2146.7 1164.6L2147.5 1174.7L2148.9 1184.7L2150.8 1194.4L2153.5 1203.7L2156.9 1212.3L2161.1 1220.1L2166 1226.7L2171.8 1232L2178.1 1235.8L2185 1238L2192.2 1238.6L2199.6 1237.7L2206.9 1235.3L2214.2 1231.6L2221.2 1227L2227.8 1221.6L2234.1 1215.6L2240 1209.2L2245.6 1202.6L2250.9 1195.9L2255.9 1189.1L2260.7 1182.2L2265.3 1175.2L2269.8 1168L2274.2 1160.6L2278.4 1152.8L2282.3 1144.7L2286 1136.2L2289.2 1127.3L2292 1118L2294.3 1108.5L2296 1098.9L2296.9 1089.2L2297.2 1079.6L2296.7 1070.3L2295.4 1061.5L2293.4 1053.2L2290.7 1045.5L2287.4 1038.7L2283.6 1032.7L2279.3 1027.6L2274.6 1023.3L2269.6 1019.9L2264.5 1017.2L2259.3 1015.1L2253.9 1013.5L2248.6 1012.4L2243.2 1011.5L2237.7 1011L2232.2 1010.8L2226.4 1010.8L2220.5 1011.3L2214.5 1012.4L2208.2 1014.1L2201.7 1016.6L2195.2 1020.1L2188.8 1024.7L2182.4 1030.3L2176.4 1037L2170.7 1044.7L2165.6 1053.3L2161.1 1062.6L2157.2 1072.4L2154.1 1082.6Z"/>
<path fill="#dc004f" d="M2155.1 1093.8L2153.3 1103.7L2151.9 1113.5L2151 1123.3L2150.4 1133L2150.1 1142.7L2150.2 1152.3L2150.6 1161.9L2151.4 1171.5L2152.6 1181L2154.5 1190.2L2157 1199L2160.2 1207.3L2164.2 1214.6L2168.9 1220.9L2174.4 1226L2180.4 1229.6L2186.9 1231.7L2193.8 1232.2L2200.8 1231.3L2207.8 1229.1L2214.7 1225.6L2221.3 1221.2L2227.6 1216L2233.6 1210.3L2239.2 1204.3L2244.5 1198L2249.5 1191.6L2254.3 1185.2L2258.9 1178.7L2263.3 1172L2267.6 1165.2L2271.7 1158.1L2275.7 1150.7L2279.4 1143L2282.9 1134.9L2286 1126.5L2288.6 1117.7L2290.8 1108.6L2292.4 1099.5L2293.3 1090.3L2293.5 1081.2L2293 1072.4L2291.9 1063.9L2290 1056.1L2287.4 1048.8L2284.3 1042.3L2280.6 1036.6L2276.5 1031.8L2272 1027.7L2267.3 1024.4L2262.5 1021.9L2257.5 1019.9L2252.5 1018.4L2247.4 1017.3L2242.2 1016.5L2237 1016L2231.8 1015.8L2226.3 1015.8L2220.7 1016.3L2214.9 1017.3L2209 1018.9L2202.9 1021.3L2196.7 1024.7L2190.5 1029L2184.5 1034.3L2178.8 1040.7L2173.4 1048.1L2168.5 1056.2L2164.2 1065L2160.6 1074.4L2157.6 1084Z"/>
<path fill="#cf004e" d="M2161.6 1095.4L2159.8 1104.4L2158.5 1113.5L2157.5 1122.5L2156.9 1131.4L2156.6 1140.3L2156.5 1149.2L2156.9 1158.1L2157.6 1166.9L2158.7 1175.6L2160.4 1184.1L2162.7 1192.2L2165.6 1199.7L2169.2 1206.5L2173.5 1212.3L2178.4 1217L2183.8 1220.4L2189.7 1222.4L2195.9 1223.1L2202.2 1222.4L2208.6 1220.5L2214.9 1217.6L2221 1213.7L2226.8 1209.2L2232.4 1204.1L2237.6 1198.6L2242.6 1192.9L2247.3 1187L2251.7 1180.9L2256 1174.8L2260.2 1168.5L2264.2 1162L2268 1155.3L2271.7 1148.3L2275.1 1140.9L2278.3 1133.3L2281.1 1125.3L2283.5 1117.1L2285.4 1108.7L2286.8 1100.1L2287.6 1091.6L2287.8 1083.2L2287.3 1075.1L2286.2 1067.3L2284.5 1060L2282.2 1053.4L2279.4 1047.4L2276 1042.1L2272.3 1037.6L2268.3 1033.8L2264 1030.8L2259.6 1028.3L2255.1 1026.5L2250.5 1025.1L2245.8 1024.1L2241.1 1023.4L2236.4 1023L2231.5 1022.9L2226.5 1023.1L2221.4 1023.7L2216.1 1024.7L2210.7 1026.4L2205.2 1028.7L2199.6 1031.9L2194 1036L2188.6 1040.9L2183.4 1046.8L2178.5 1053.5L2174 1061L2170.1 1069L2166.7 1077.6L2163.9 1086.4Z"/>
<path fill="#c7004c" d="M2165.9 1096.4L2164.2 1104.9L2162.8 1113.4L2161.9 1121.9L2161.2 1130.3L2160.9 1138.8L2160.8 1147.2L2161.1 1155.5L2161.7 1163.8L2162.8 1172L2164.3 1180L2166.4 1187.6L2169.2 1194.7L2172.5 1201L2176.5 1206.5L2181 1210.9L2186.1 1214.2L2191.5 1216.2L2197.3 1217L2203.2 1216.5L2209.2 1214.9L2215 1212.2L2220.8 1208.8L2226.3 1204.6L2231.5 1199.9L2236.5 1194.8L2241.3 1189.4L2245.8 1183.9L2250 1178.1L2254.2 1172.2L2258.1 1166.2L2261.9 1159.9L2265.6 1153.4L2269 1146.6L2272.3 1139.6L2275.2 1132.2L2277.8 1124.6L2280.1 1116.7L2281.9 1108.7L2283.1 1100.6L2283.8 1092.5L2284 1084.6L2283.5 1076.9L2282.5 1069.6L2280.9 1062.7L2278.7 1056.4L2276.1 1050.7L2273 1045.8L2269.5 1041.5L2265.8 1037.9L2261.8 1035L2257.7 1032.7L2253.5 1030.9L2249.1 1029.6L2244.8 1028.6L2240.4 1028L2235.9 1027.7L2231.3 1027.6L2226.7 1027.9L2221.9 1028.6L2217 1029.7L2211.9 1031.3L2206.7 1033.7L2201.5 1036.7L2196.3 1040.6L2191.3 1045.3L2186.4 1050.9L2181.9 1057.2L2177.7 1064.2L2174 1071.7L2170.8 1079.7L2168.1 1088Z"/>
<path fill="#bf004a" d="M2170.2 1097.4L2168.5 1105.4L2167.2 1113.4L2166.2 1121.3L2165.5 1129.3L2165.2 1137.2L2165.1 1145.1L2165.3 1153L2165.9 1160.8L2166.8 1168.5L2168.3 1175.9L2170.2 1183L2172.7 1189.6L2175.8 1195.6L2179.5 1200.7L2183.7 1204.9L2188.3 1208L2193.4 1210L2198.7 1210.9L2204.2 1210.6L2209.7 1209.2L2215.2 1206.9L2220.6 1203.8L2225.7 1200L2230.7 1195.7L2235.4 1191L2240 1186L2244.2 1180.7L2248.4 1175.3L2252.3 1169.7L2256.1 1163.8L2259.7 1157.8L2263.1 1151.5L2266.4 1145L2269.4 1138.2L2272.2 1131.1L2274.6 1123.8L2276.6 1116.3L2278.3 1108.7L2279.4 1101L2280.1 1093.4L2280.2 1085.9L2279.7 1078.7L2278.8 1071.8L2277.3 1065.3L2275.3 1059.4L2272.8 1054.1L2270 1049.4L2266.8 1045.4L2263.3 1042L2259.6 1039.2L2255.8 1037L2251.8 1035.3L2247.8 1034L2243.8 1033.1L2239.6 1032.6L2235.4 1032.3L2231.2 1032.4L2226.8 1032.7L2222.4 1033.5L2217.8 1034.6L2213.1 1036.3L2208.3 1038.6L2203.5 1041.5L2198.7 1045.3L2194 1049.7L2189.5 1054.9L2185.3 1060.8L2181.4 1067.4L2177.9 1074.4L2174.9 1081.8L2172.4 1089.5Z"/>
<path fill="#b60047" d="M2174.5 1098.4L2172.9 1105.8L2171.6 1113.3L2170.6 1120.8L2169.9 1128.2L2169.5 1135.6L2169.3 1143.1L2169.5 1150.4L2170 1157.7L2170.9 1164.9L2172.2 1171.8L2174 1178.4L2176.3 1184.6L2179.1 1190.2L2182.5 1195L2186.3 1198.9L2190.6 1201.9L2195.2 1203.8L2200.1 1204.7L2205.1 1204.6L2210.2 1203.5L2215.3 1201.6L2220.3 1198.8L2225.2 1195.4L2229.9 1191.5L2234.4 1187.2L2238.6 1182.6L2242.7 1177.6L2246.7 1172.5L2250.4 1167.1L2254 1161.5L2257.4 1155.7L2260.7 1149.6L2263.7 1143.3L2266.6 1136.8L2269.1 1130L2271.3 1123.1L2273.2 1115.9L2274.7 1108.7L2275.7 1101.5L2276.3 1094.3L2276.4 1087.3L2276 1080.5L2275 1074L2273.6 1068L2271.8 1062.5L2269.5 1057.5L2266.9 1053.1L2264 1049.2L2260.8 1046L2257.4 1043.4L2253.9 1041.3L2250.2 1039.7L2246.5 1038.5L2242.7 1037.7L2238.9 1037.2L2235 1037L2231 1037.1L2227 1037.6L2222.8 1038.3L2218.6 1039.6L2214.2 1041.2L2209.8 1043.5L2205.4 1046.4L2201 1049.9L2196.7 1054.1L2192.6 1059L2188.7 1064.5L2185.1 1070.6L2181.9 1077.1L2179 1084L2176.6 1091.1Z"/>
<path fill="#aa003f" d="M2178.9 1099.5L2177.2 1106.3L2175.9 1113.2L2174.9 1120.2L2174.2 1127.1L2173.8 1134.1L2173.6 1141L2173.7 1147.9L2174.1 1154.7L2174.9 1161.3L2176.1 1167.7L2177.8 1173.9L2179.9 1179.6L2182.4 1184.7L2185.5 1189.2L2189 1192.9L2192.8 1195.7L2197 1197.7L2201.5 1198.6L2206.1 1198.7L2210.8 1197.9L2215.5 1196.2L2220.1 1193.9L2224.7 1190.9L2229 1187.4L2233.3 1183.4L2237.3 1179.1L2241.2 1174.5L2245 1169.6L2248.5 1164.5L2251.9 1159.2L2255.2 1153.6L2258.2 1147.8L2261.1 1141.7L2263.7 1135.4L2266 1129L2268.1 1122.3L2269.8 1115.6L2271.1 1108.7L2272 1101.9L2272.5 1095.2L2272.6 1088.6L2272.2 1082.3L2271.3 1076.3L2270 1070.7L2268.3 1065.5L2266.3 1060.8L2263.9 1056.7L2261.2 1053.1L2258.3 1050.1L2255.2 1047.6L2252 1045.6L2248.6 1044.1L2245.2 1043L2241.7 1042.2L2238.1 1041.8L2234.5 1041.7L2230.9 1041.9L2227.1 1042.4L2223.3 1043.2L2219.4 1044.5L2215.4 1046.2L2211.4 1048.4L2207.3 1051.2L2203.3 1054.5L2199.4 1058.5L2195.6 1063L2192.1 1068.1L2188.8 1073.7L2185.8 1079.7L2183.1 1086.1L2180.8 1092.7Z"/>
<path fill="#9e0036" d="M2183.2 1100.5L2181.6 1106.8L2180.3 1113.2L2179.3 1119.6L2178.6 1126.1L2178.1 1132.5L2177.9 1138.9L2177.9 1145.3L2178.3 1151.6L2179 1157.7L2180.1 1163.7L2181.6 1169.3L2183.4 1174.5L2185.8 1179.3L2188.5 1183.4L2191.6 1186.9L2195.1 1189.6L2198.9 1191.5L2202.9 1192.5L2207.1 1192.7L2211.3 1192.2L2215.6 1190.9L2219.9 1188.9L2224.1 1186.3L2228.2 1183.2L2232.2 1179.6L2236 1175.7L2239.7 1171.4L2243.3 1166.8L2246.7 1161.9L2249.9 1156.8L2252.9 1151.5L2255.8 1145.9L2258.4 1140.1L2260.8 1134.1L2263 1127.9L2264.8 1121.6L2266.4 1115.2L2267.5 1108.8L2268.3 1102.4L2268.7 1096.1L2268.7 1090L2268.4 1084.1L2267.6 1078.5L2266.4 1073.3L2264.9 1068.5L2263 1064.2L2260.8 1060.4L2258.4 1057L2255.8 1054.2L2253 1051.8L2250 1049.9L2247 1048.5L2243.9 1047.4L2240.7 1046.7L2237.4 1046.4L2234.1 1046.3L2230.7 1046.6L2227.3 1047.2L2223.8 1048.1L2220.2 1049.4L2216.6 1051.2L2212.9 1053.3L2209.3 1056L2205.6 1059.2L2202.1 1062.9L2198.7 1067.1L2195.4 1071.8L2192.4 1076.9L2189.7 1082.4L2187.2 1088.2L2185 1094.3Z"/>
<path fill="#910027" d="M2187.5 1101.5L2184.7 1113.1L2182.9 1125L2182.1 1136.9L2182.4 1148.5L2184 1159.6L2187 1169.5L2191.5 1177.6L2197.4 1183.4L2204.3 1186.4L2211.9 1186.5L2219.7 1183.9L2227.4 1179L2234.7 1172.2L2241.6 1164L2247.8 1154.5L2253.3 1144L2258 1132.7L2261.6 1120.8L2264 1108.8L2265 1097L2264.6 1085.9L2262.8 1076L2259.7 1067.6L2255.6 1060.9L2250.8 1056L2245.4 1052.9L2239.6 1051.3L2233.6 1051L2227.4 1052L2221 1054.4L2214.5 1058.3L2208 1063.8L2201.7 1071.2L2196.1 1080.1L2191.3 1090.4Z"/>
<path fill="#830019" d="M2191.8 1102.5L2189.1 1113.1L2187.2 1123.9L2186.4 1134.8L2186.6 1145.5L2188 1155.5L2190.6 1164.5L2194.5 1171.9L2199.6 1177.3L2205.7 1180.3L2212.4 1180.8L2219.5 1178.9L2226.6 1174.8L2233.4 1168.8L2239.9 1161.1L2245.8 1152.2L2250.9 1142.1L2255.1 1131.3L2258.3 1120.1L2260.4 1108.8L2261.2 1097.9L2260.8 1087.7L2259.1 1078.6L2256.4 1070.9L2252.9 1064.8L2248.6 1060.3L2243.8 1057.3L2238.6 1055.8L2233.2 1055.7L2227.6 1056.9L2221.8 1059.3L2216 1063.2L2210.3 1068.5L2204.8 1075.2L2199.8 1083.3L2195.4 1092.5Z"/>
<path fill="#76000a" d="M2196.1 1103.5L2193.4 1113L2191.6 1122.9L2190.6 1132.8L2190.7 1142.4L2191.9 1151.4L2194.2 1159.4L2197.5 1166.1L2201.9 1171.1L2207.1 1174.2L2213 1175.2L2219.3 1174L2225.7 1170.7L2232.1 1165.4L2238.2 1158.3L2243.7 1149.8L2248.4 1140.2L2252.3 1129.9L2255.1 1119.3L2256.8 1108.8L2257.4 1098.8L2257 1089.5L2255.5 1081.3L2253.2 1074.3L2250.1 1068.7L2246.4 1064.5L2242.1 1061.7L2237.6 1060.3L2232.7 1060.4L2227.7 1061.7L2222.6 1064.3L2217.6 1068.1L2212.6 1073.1L2207.9 1079.3L2203.5 1086.5L2199.5 1094.6Z"/>
<path fill="#6b0004" d="M2199.2 1104.3L2196.8 1112.8L2195.1 1121.6L2194.2 1130.5L2194.3 1139.1L2195.3 1147.2L2197.3 1154.3L2200.3 1160.3L2204.2 1164.8L2208.8 1167.6L2214.1 1168.5L2219.7 1167.5L2225.5 1164.6L2231.2 1159.9L2236.7 1153.5L2241.6 1145.9L2245.9 1137.3L2249.3 1128L2251.8 1118.5L2253.3 1109L2253.9 1100L2253.5 1091.7L2252.2 1084.4L2250.1 1078.1L2247.3 1073.1L2244 1069.3L2240.3 1066.8L2236.2 1065.6L2231.8 1065.6L2227.4 1066.8L2222.8 1069.2L2218.3 1072.7L2213.9 1077.2L2209.7 1082.7L2205.8 1089.1L2202.2 1096.4Z"/>
<path fill="#630003" d="M2202.1 1105.1L2200 1112.6L2198.5 1120.4L2197.7 1128.2L2197.8 1135.8L2198.7 1142.9L2200.5 1149.2L2203.1 1154.5L2206.5 1158.5L2210.6 1160.9L2215.2 1161.7L2220.2 1160.8L2225.3 1158.3L2230.4 1154.1L2235.2 1148.5L2239.5 1141.8L2243.3 1134.2L2246.3 1126L2248.5 1117.6L2249.9 1109.3L2250.4 1101.3L2250 1094L2248.9 1087.5L2247 1082L2244.6 1077.5L2241.7 1074.2L2238.3 1072L2234.7 1070.9L2230.9 1071L2227 1072L2223 1074.1L2219 1077.2L2215.1 1081.2L2211.4 1086L2207.9 1091.7L2204.8 1098.1Z"/>
<path fill="#5b0002" d="M2205 1105.9L2203.2 1112.4L2201.9 1119.1L2201.2 1125.9L2201.3 1132.5L2202.1 1138.7L2203.6 1144.1L2205.9 1148.7L2208.9 1152.1L2212.4 1154.3L2216.4 1155L2220.7 1154.2L2225.1 1152L2229.5 1148.4L2233.7 1143.5L2237.5 1137.7L2240.7 1131.1L2243.4 1124L2245.3 1116.7L2246.4 1109.5L2246.8 1102.6L2246.5 1096.3L2245.5 1090.6L2243.9 1085.8L2241.8 1082L2239.3 1079.1L2236.4 1077.2L2233.3 1076.3L2230 1076.3L2226.6 1077.2L2223.1 1079L2219.7 1081.7L2216.3 1085.1L2213.1 1089.4L2210.1 1094.3L2207.3 1099.8Z"/>
<path fill="#530001" d="M2207.9 1106.7L2206.4 1112.2L2205.3 1117.9L2204.7 1123.6L2204.8 1129.2L2205.4 1134.4L2206.8 1139L2208.7 1142.9L2211.2 1145.8L2214.2 1147.6L2217.6 1148.2L2221.2 1147.6L2225 1145.7L2228.7 1142.6L2232.2 1138.5L2235.4 1133.6L2238.2 1128L2240.4 1122L2242 1115.8L2243 1109.7L2243.3 1103.9L2243.1 1098.5L2242.2 1093.8L2240.9 1089.7L2239.1 1086.5L2237 1084L2234.5 1082.4L2231.9 1081.6L2229.1 1081.6L2226.2 1082.4L2223.2 1084L2220.3 1086.2L2217.5 1089.1L2214.7 1092.7L2212.2 1096.8L2209.9 1101.5Z"/>
<path fill="#4a0000" d="M2210.9 1107.5L2209.6 1112L2208.7 1116.6L2208.2 1121.3L2208.3 1125.9L2208.8 1130.1L2209.9 1133.9L2211.5 1137.1L2213.5 1139.5L2216 1141L2218.7 1141.4L2221.7 1140.9L2224.8 1139.4L2227.8 1136.9L2230.7 1133.5L2233.3 1129.5L2235.6 1124.9L2237.4 1120L2238.7 1114.9L2239.5 1110L2239.8 1105.2L2239.6 1100.8L2238.9 1096.9L2237.8 1093.6L2236.4 1090.9L2234.6 1088.9L2232.6 1087.6L2230.4 1087L2228.1 1087L2225.8 1087.6L2223.4 1088.9L2221 1090.7L2218.7 1093.1L2216.4 1096L2214.3 1099.4L2212.5 1103.3Z"/>
<path fill="#470000" d="M2213.8 1108.3L2212.8 1111.8L2212.1 1115.4L2211.7 1119L2211.8 1122.6L2212.2 1125.9L2213 1128.8L2214.3 1131.3L2215.8 1133.2L2217.8 1134.3L2219.9 1134.7L2222.2 1134.3L2224.6 1133.1L2227 1131.1L2229.2 1128.5L2231.3 1125.4L2233 1121.8L2234.4 1118L2235.5 1114.1L2236.1 1110.2L2236.3 1106.5L2236.1 1103.1L2235.6 1100L2234.7 1097.5L2233.6 1095.4L2232.2 1093.8L2230.7 1092.8L2229 1092.3L2227.2 1092.3L2225.4 1092.8L2223.5 1093.8L2221.7 1095.2L2219.8 1097.1L2218.1 1099.3L2216.5 1102L2215 1105Z"/>
<path fill="#440000" d="M2216.7 1109L2216 1111.5L2215.5 1114.1L2215.2 1116.7L2215.3 1119.3L2215.6 1121.6L2216.2 1123.7L2217 1125.5L2218.2 1126.8L2219.5 1127.6L2221.1 1127.9L2222.7 1127.6L2224.4 1126.8L2226.1 1125.4L2227.7 1123.5L2229.2 1121.3L2230.4 1118.7L2231.4 1116L2232.2 1113.2L2232.6 1110.4L2232.8 1107.8L2232.7 1105.3L2232.3 1103.2L2231.7 1101.3L2230.9 1099.8L2229.9 1098.7L2228.8 1098L2227.6 1097.6L2226.3 1097.7L2225 1098L2223.7 1098.7L2222.3 1099.7L2221 1101.1L2219.8 1102.7L2218.6 1104.6L2217.6 1106.7Z"/>
<path fill="#400000" d="M2219.6 1109.8L2219.2 1111.3L2218.9 1112.9L2218.7 1114.4L2218.8 1116L2218.9 1117.4L2219.3 1118.6L2219.8 1119.7L2220.5 1120.5L2221.3 1121L2222.2 1121.1L2223.2 1121L2224.3 1120.5L2225.3 1119.6L2226.2 1118.5L2227.1 1117.2L2227.9 1115.6L2228.5 1114L2228.9 1112.3L2229.2 1110.7L2229.3 1109.1L2229.2 1107.6L2229 1106.3L2228.6 1105.2L2228.1 1104.3L2227.5 1103.6L2226.9 1103.2L2226.1 1103L2225.4 1103L2224.6 1103.2L2223.8 1103.6L2223 1104.2L2222.2 1105L2221.5 1106L2220.8 1107.1L2220.2 1108.4Z"/>
</g>
<g fill="none" stroke="#000" stroke-width="3.33" stroke-linejoin="miter">
<path d="M2118.8 1273.7L2110.7 1278.9L2102.4 1284.1L2094.1 1289.3L2085.8 1294.4L2077.3 1299.5L2068.9 1304.6L2060.4 1309.7L2051.8 1314.8L2043.2 1319.9L2034.6 1324.8L2025.9 1329.7L2017.2 1334.6L2013.6 1325.2L2010 1315.6L2006.4 1306L2002.7 1296.3L1999.1 1286.5L1995.4 1276.6L1991.7 1266.7L1988 1256.7L1984.3 1246.6L1980.6 1236.5L1976.9 1226.3L1973.2 1216.1L1981.8 1211.4L1990.4 1206.7L1999 1201.9L2007.5 1197.1L2016 1192.2L2024.5 1187.3L2032.9 1182.5L2041.3 1177.5L2049.6 1172.6L2057.8 1167.7L2066 1162.7L2074.1 1157.8L2077.9 1167.7L2081.7 1177.5L2085.5 1187.3L2089.3 1197.1L2093 1206.8L2096.8 1216.4L2100.5 1226L2104.1 1235.5L2107.8 1245L2111.4 1254.4L2115 1263.6Z"/>
<path d="M2071.8 1152L2063.7 1156.9L2055.6 1161.8L2047.3 1166.7L2039 1171.7L2030.7 1176.5L2022.3 1181.4L2013.8 1186.3L2005.3 1191.1L1996.8 1195.9L1988.2 1200.7L1979.7 1205.4L1971.1 1210.1L1967.4 1199.8L1963.7 1189.5L1960 1179.3L1956.3 1169L1952.6 1158.7L1949 1148.4L1945.3 1138.2L1941.7 1128L1938.1 1117.8L1934.5 1107.6L1930.9 1097.6L1927.4 1087.5L1935.7 1083.1L1943.9 1078.6L1952.2 1074.1L1960.5 1069.7L1968.7 1065.2L1976.9 1060.7L1985 1056.3L1993.2 1051.8L2001.3 1047.4L2009.3 1043L2017.3 1038.6L2025.2 1034.2L2029.1 1043.8L2033 1053.5L2036.9 1063.2L2040.8 1073L2044.7 1082.8L2048.6 1092.6L2052.5 1102.5L2056.4 1112.4L2060.2 1122.3L2064.1 1132.2L2068 1142.1Z"/>
<path d="M2011.3 1337.8L2002.5 1342.5L1993.8 1347.1L1985 1351.6L1976.2 1356L1967.4 1360.4L1958.7 1364.6L1949.9 1368.8L1941.2 1373L1932.5 1377L1923.9 1381L1915.3 1384.8L1906.7 1388.6L1902.8 1378.3L1899.2 1368.9L1895.7 1359.3L1892.1 1349.7L1888.6 1340L1885.1 1330.2L1881.6 1320.3L1878.1 1310.3L1874.6 1300.3L1871.1 1290.3L1867.6 1280.1L1864.2 1270L1872.7 1266.2L1881.2 1262.3L1889.7 1258.3L1898.3 1254.3L1906.9 1250.2L1915.5 1245.9L1924.1 1241.7L1932.7 1237.3L1941.4 1232.9L1950 1228.4L1958.7 1223.9L1967.3 1219.2L1971 1229.5L1974.7 1239.7L1978.4 1249.8L1982.1 1259.9L1985.8 1269.9L1989.5 1279.9L1993.1 1289.7L1996.8 1299.5L2000.4 1309.3L2004.1 1318.9L2007.7 1328.4Z"/>
<path d="M1965.2 1213.2L1956.5 1217.8L1947.9 1222.4L1939.3 1226.9L1930.6 1231.3L1922 1235.6L1913.4 1239.9L1904.8 1244.1L1896.2 1248.3L1887.6 1252.3L1879.1 1256.3L1870.6 1260.2L1862.2 1264L1858.8 1253.8L1855.4 1243.6L1852 1233.3L1848.7 1223.1L1845.4 1212.8L1842.1 1202.6L1838.9 1192.3L1835.7 1182.1L1832.5 1171.9L1829.3 1161.8L1826.2 1151.6L1823.2 1141.6L1831.2 1137.6L1839.3 1133.5L1847.4 1129.4L1855.6 1125.2L1863.8 1121L1872 1116.7L1880.2 1112.5L1888.5 1108.1L1896.8 1103.8L1905.1 1099.4L1913.4 1095L1921.7 1090.6L1925.2 1100.6L1928.8 1110.7L1932.3 1120.9L1935.9 1131L1939.5 1141.3L1943.2 1151.5L1946.8 1161.8L1950.5 1172.1L1954.1 1182.4L1957.8 1192.7L1961.5 1203Z"/>
<path d="M2226.5 1476.3L2217.6 1483L2208.6 1489.6L2199.4 1496.1L2190.2 1502.6L2180.9 1509L2171.4 1515.4L2162 1521.7L2152.4 1528L2142.8 1534.2L2133 1540.2L2123.2 1546.1L2113.4 1551.9L2109.2 1544.2L2105.1 1536.4L2101 1528.5L2097 1520.4L2092.9 1512.1L2088.8 1503.8L2084.8 1495.3L2080.8 1486.7L2076.8 1478L2072.8 1469.2L2068.8 1460.4L2064.9 1451.4L2074.3 1446L2083.6 1440.6L2092.9 1435L2102.1 1429.4L2111.3 1423.6L2120.3 1417.8L2129.3 1411.9L2138.3 1405.9L2147.1 1399.9L2155.8 1393.8L2164.5 1387.7L2173.1 1381.5L2177.5 1389.8L2181.9 1398.1L2186.3 1406.3L2190.7 1414.5L2195.1 1422.5L2199.5 1430.4L2204 1438.3L2208.4 1446L2212.8 1453.6L2217.2 1461L2221.6 1468.4Z"/>
<path d="M2170.5 1376.5L2161.9 1382.7L2153.3 1388.8L2144.6 1394.9L2135.8 1400.9L2126.9 1406.8L2117.9 1412.7L2108.8 1418.5L2099.7 1424.2L2090.5 1429.8L2081.3 1435.3L2071.9 1440.8L2062.6 1446.1L2058.7 1437L2054.8 1427.9L2050.9 1418.6L2047.1 1409.4L2043.2 1400.1L2039.4 1390.8L2035.7 1381.4L2031.9 1372L2028.2 1362.7L2024.5 1353.3L2020.9 1343.9L2017.2 1334.6L2025.9 1329.7L2034.6 1324.8L2043.2 1319.9L2051.8 1314.8L2060.4 1309.7L2068.9 1304.6L2077.3 1299.3L2085.6 1293.9L2093.8 1288.5L2102 1283L2110.1 1277.5L2118.1 1272L2122.7 1281.5L2127 1290.2L2131.3 1298.9L2135.6 1307.7L2139.9 1316.4L2144.2 1325.1L2148.6 1333.7L2152.9 1342.4L2157.3 1351L2161.7 1359.6L2166.1 1368.1Z"/>
<path d="M2106.6 1555.8L2096.6 1561.3L2086.6 1566.7L2076.6 1572L2066.5 1577.1L2056.3 1582L2046.2 1586.7L2036.1 1591.4L2026 1595.9L2015.8 1600.3L2005.7 1604.4L1995.6 1608.4L1985.6 1612.2L1981.7 1603.4L1978.1 1595.3L1974.6 1587.1L1971.1 1578.7L1967.7 1570.1L1964.3 1561.5L1960.9 1552.8L1957.5 1543.9L1954.2 1534.9L1950.9 1525.9L1947.6 1516.7L1944.3 1507.5L1953.8 1504L1963.3 1500.3L1972.8 1496.4L1982.3 1492.4L1991.9 1488.2L2001.4 1483.9L2011 1479.4L2020.5 1474.8L2030 1470L2039.5 1465.1L2049 1460.1L2058.5 1455L2062.4 1464L2066.3 1472.9L2070.3 1481.7L2074.2 1490.4L2078.2 1499L2082.2 1507.5L2086.2 1515.9L2090.3 1524.2L2094.3 1532.3L2098.4 1540.2L2102.5 1548.1Z"/>
<path d="M2056.2 1449.7L2046.8 1454.8L2037.3 1459.8L2027.9 1464.7L2018.4 1469.4L2008.9 1474L1999.3 1478.5L1989.8 1482.8L1980.3 1486.9L1970.8 1491L1961.3 1494.8L1951.9 1498.5L1942.5 1502.1L1939.3 1492.7L1936.1 1483.3L1933 1473.9L1929.9 1464.4L1926.8 1454.8L1923.8 1445.3L1920.8 1435.7L1917.8 1426.1L1914.9 1416.5L1912 1406.9L1909.1 1397.2L1906 1386.7L1914.7 1383.3L1923.5 1379.8L1932.2 1376.2L1941 1372.5L1949.9 1368.6L1958.7 1364.6L1967.4 1360.4L1976.2 1356L1985 1351.6L1993.8 1347.1L2002.5 1342.5L2011.3 1337.8L2014.9 1347.2L2018.5 1356.6L2022.1 1366L2025.8 1375.4L2029.5 1384.8L2033.3 1394.2L2037 1403.5L2040.8 1412.9L2044.6 1422.1L2048.5 1431.4L2052.3 1440.5Z"/>
<path d="M2379.5 1603.9L2369.8 1612.2L2359.8 1620.5L2349.6 1628.7L2339.2 1636.8L2328.5 1645L2317.7 1653L2306.8 1661.1L2295.6 1669L2284.3 1676.8L2272.7 1684.6L2260.9 1692.2L2248.8 1699.7L2241.4 1696.1L2234.3 1692.1L2227.3 1688L2220.6 1683.5L2214 1678.9L2207.6 1674L2201.4 1668.9L2195.4 1663.5L2189.5 1658L2183.8 1652.2L2178.2 1646.3L2172.7 1640.2L2183.9 1633.4L2194.9 1626.5L2205.8 1619.5L2216.6 1612.3L2227.2 1605.1L2237.7 1597.7L2248.1 1590.2L2258.3 1582.6L2268.3 1575L2278.1 1567.3L2287.8 1559.5L2297.3 1551.7L2303.6 1556.9L2309.9 1562.1L2316.3 1567L2322.8 1571.8L2329.5 1576.4L2336.2 1580.8L2343 1585.1L2350 1589.2L2357 1593.1L2364.2 1596.8L2371.4 1600.3Z"/>
<path d="M2293.7 1548.5L2284.2 1556.3L2274.6 1564.1L2264.7 1571.7L2254.7 1579.3L2244.6 1586.8L2234.3 1594.3L2223.9 1601.6L2213.3 1608.9L2202.5 1616L2191.7 1623L2180.7 1629.8L2169.6 1636.5L2164.3 1630.2L2159.2 1623.6L2154.2 1616.9L2149.3 1610.1L2144.5 1603.2L2139.8 1596.1L2135.2 1588.9L2130.6 1581.7L2126.2 1574.3L2121.8 1566.9L2117.6 1559.4L2113.4 1551.9L2123.2 1546.1L2133 1540.2L2142.8 1534.2L2152.4 1528L2162 1521.7L2171.4 1515.4L2180.8 1508.9L2189.9 1502.2L2199 1495.5L2208 1488.7L2216.8 1481.9L2225.5 1475L2231.3 1482.2L2236.5 1488.6L2241.9 1495L2247.3 1501.4L2252.8 1507.6L2258.4 1513.8L2264.1 1519.9L2269.9 1525.9L2275.7 1531.7L2281.6 1537.5L2287.6 1543.1Z"/>
<path d="M2240.5 1704.8L2228.2 1712.1L2215.6 1719.2L2202.9 1726.2L2190 1733L2176.9 1739.6L2163.6 1746L2150.2 1752.3L2136.8 1758.4L2123.2 1764.3L2109.4 1769.9L2095.6 1775.3L2081.6 1780.4L2075 1775.4L2069.3 1770.6L2063.9 1765.4L2058.8 1760.1L2053.9 1754.4L2049.3 1748.6L2044.8 1742.5L2040.5 1736.2L2036.3 1729.7L2032.3 1723.1L2028.4 1716.2L2024.7 1709.2L2036.6 1705.1L2048.4 1700.7L2060.3 1696.1L2072.1 1691.3L2084 1686.2L2095.7 1680.9L2107.5 1675.3L2119.1 1669.6L2130.7 1663.7L2142.3 1657.5L2153.7 1651.2L2165 1644.7L2170.4 1650.9L2175.9 1656.9L2181.6 1662.7L2187.4 1668.3L2193.4 1673.6L2199.5 1678.8L2205.9 1683.7L2212.4 1688.4L2219.1 1692.9L2226 1697.1L2233.2 1701.1Z"/>
<path d="M2161.9 1641L2150.7 1647.5L2139.3 1653.7L2127.8 1659.8L2116.3 1665.7L2104.7 1671.4L2093.1 1676.9L2081.4 1682.2L2069.6 1687.2L2057.9 1692.1L2046.1 1696.6L2034.3 1701L2022.5 1705L2019 1697.8L2015.5 1690.4L2012.1 1682.9L2008.8 1675.3L2005.6 1667.6L2002.5 1659.8L1999.5 1651.9L1996.5 1643.9L1993.6 1635.8L1990.7 1627.7L1987.9 1619.6L1985 1610.6L1995.1 1607.1L2005.3 1603.4L2015.5 1599.6L2025.8 1595.5L2036 1591.2L2046.2 1586.7L2056.3 1582L2066.5 1577.1L2076.6 1572L2086.6 1566.7L2096.6 1561.3L2106.6 1555.8L2110.7 1563.4L2114.9 1570.9L2119.2 1578.4L2123.6 1585.8L2128 1593.1L2132.6 1600.3L2137.2 1607.4L2141.9 1614.4L2146.8 1621.3L2151.7 1628L2156.8 1634.6Z"/>
<path d="M2646.5 1605L2640 1613.4L2633.3 1621.7L2626.5 1630L2619.6 1638.3L2612.5 1646.5L2605.2 1654.6L2597.8 1662.6L2590.3 1670.6L2582.7 1678.5L2575 1686.3L2567.1 1693.9L2559.2 1701.5L2542.5 1704.8L2525.9 1707.8L2509.5 1710.6L2493.3 1713.2L2477.4 1715.5L2461.7 1717.5L2446.4 1719.2L2431.5 1720.7L2417 1721.8L2402.8 1722.6L2389.2 1723.1L2375.9 1723.3L2387.8 1715.1L2399.4 1706.8L2410.7 1698.4L2421.8 1689.9L2432.5 1681.4L2443 1672.7L2453.3 1664L2463.3 1655.3L2473 1646.5L2482.5 1637.7L2491.7 1628.8L2500.7 1619.9L2511.9 1619.8L2523.3 1619.5L2534.9 1619L2546.8 1618.2L2558.7 1617.2L2570.9 1616.1L2583.2 1614.7L2595.6 1613.1L2608.2 1611.4L2620.9 1609.4L2633.6 1607.3Z"/>
<path d="M2494.2 1619.9L2485.1 1628.8L2475.8 1637.6L2466.3 1646.5L2456.5 1655.3L2446.4 1664L2436.1 1672.7L2425.5 1681.3L2414.6 1689.9L2403.5 1698.4L2392.1 1706.7L2380.4 1715L2368.4 1723.2L2356 1722.9L2344 1722.3L2332.5 1721.3L2321.4 1720L2310.9 1718.4L2300.8 1716.6L2291.1 1714.4L2281.9 1712L2273 1709.3L2264.6 1706.3L2256.5 1703.1L2248.8 1699.7L2260.9 1692.2L2272.7 1684.6L2284.3 1676.8L2295.6 1669L2306.8 1661.1L2317.7 1653L2328.4 1644.9L2338.8 1636.7L2348.9 1628.4L2358.8 1620.1L2368.5 1611.7L2378 1603.3L2387.1 1606L2395.7 1608.2L2404.5 1610.3L2413.5 1612.2L2422.8 1613.8L2432.3 1615.3L2442 1616.6L2452 1617.7L2462.2 1618.6L2472.6 1619.2L2483.3 1619.7Z"/>
<path d="M2553.8 1706.5L2545.8 1713.9L2537.8 1721L2529.8 1728L2521.8 1734.9L2513.9 1741.6L2506 1748L2498.3 1754.3L2490.8 1760.4L2483.5 1766.2L2476.5 1771.8L2469.9 1777.2L2463.7 1782.3L2439.4 1786.9L2415 1791.3L2390.7 1795.3L2366.7 1799.1L2343 1802.6L2319.7 1805.6L2297.2 1808.3L2275.4 1810.6L2254.7 1812.4L2235.1 1813.7L2216.7 1814.5L2199.7 1814.8L2215.6 1808.6L2231 1802.2L2246.1 1795.6L2260.9 1788.9L2275.3 1781.9L2289.4 1774.8L2303.2 1767.5L2316.7 1760L2329.9 1752.4L2342.8 1744.7L2355.4 1736.8L2367.7 1728.8L2381 1728.6L2394.9 1728.1L2409.2 1727.3L2423.9 1726.1L2439.1 1724.7L2454.6 1722.9L2470.5 1720.9L2486.7 1718.5L2503.2 1715.9L2519.9 1713L2536.8 1709.9Z"/>
<path d="M2360.1 1728.8L2347.7 1736.8L2334.9 1744.7L2321.9 1752.4L2308.6 1760L2295 1767.4L2281.1 1774.7L2266.8 1781.9L2252.3 1788.8L2237.3 1795.6L2222.1 1802.2L2206.4 1808.5L2190.4 1814.7L2175.5 1814.2L2162 1813.1L2149.8 1811.6L2138.8 1809.6L2128.8 1807.1L2119.9 1804.3L2111.8 1801L2104.4 1797.4L2097.8 1793.4L2091.7 1789.2L2086.1 1784.7L2080.5 1779.5L2094.6 1774.6L2108.7 1769.3L2122.6 1763.9L2136.4 1758.2L2150.1 1752.2L2163.6 1746L2176.9 1739.6L2190 1733L2202.9 1726.2L2215.6 1719.2L2228.2 1712.1L2240.5 1704.8L2248.2 1708.3L2256.1 1711.5L2264.5 1714.5L2273.3 1717.3L2282.5 1719.7L2292.1 1722L2302.2 1723.9L2312.8 1725.5L2323.9 1726.8L2335.5 1727.8L2347.5 1728.4Z"/>
</g>
<g clip-path="url(#c)" fill="none" stroke="#b0b0b0" stroke-opacity="0.5" stroke-width="6.67">
<path d="M1896.9 1868.8L1986.6 1866.7L2039.1 1863.4L2083.1 1859.6L2122.2 1855.3L2158 1850.6L2191.4 1845.6L2222.8 1840.3L2252.6 1834.7L2281 1828.9L2308.3 1822.8L2334.5 1816.6L2359.9 1810.1L2384.3 1803.5L2408 1796.7L2431 1789.7L2453.4 1782.6L2475.1 1775.3L2496.2 1767.9L2516.8 1760.3L2536.9 1752.6L2556.5 1744.7L2575.6 1736.7L2594.3 1728.6L2612.5 1720.4L2630.4 1712.1L2647.8 1703.6L2664.8 1695.1L2681.5 1686.4L2697.8 1677.7L2713.7 1668.8L2729.3 1659.8L2744.5 1650.8L2759.4 1641.6L2774 1632.4L2788.2 1623.1L2802.1 1613.6L2815.8 1604.1L2829.1 1594.6L2842.1 1584.9L2854.8 1575.2L2867.2 1565.4L2879.4 1555.5L2891.2 1545.5L2902.8 1535.5L2914.1 1525.4L2925.1 1515.3L2935.8 1505L2946.3 1494.8L2956.5 1484.4L2966.5 1474L2976.1 1463.6L2985.5 1453L2994.7 1442.5L3003.6 1431.9L3012.2 1421.2L3020.6 1410.5L3028.7 1399.7L3036.5 1388.9L3044.1 1378L3051.5 1367.1L3058.6 1356.2L3065.5 1345.2L3072.1 1334.2L3078.4 1323.1L3084.6 1312L3090.4 1300.9L3096.1 1289.7L3101.4 1278.5L3106.6 1267.3L3111.5 1256.1L3116.1 1244.8L3120.5 1233.5L3124.7 1222.1L3128.6 1210.8L3132.3 1199.4L3135.8 1188L3139 1176.6L3142 1165.2L3144.7 1153.7L3147.2 1142.3L3149.5 1130.8L3151.5 1119.3L3153.3 1107.8L3154.8 1096.3L3156.1 1084.8L3157.2 1073.2L3158 1061.7L3158.6 1050.2L3158.9 1038.6L3159.1 1027.1L3158.9 1015.6L3158.6 1004L3158 992.5L3157.2 981L3156.1 969.4L3154.8 957.9L3153.3 946.4L3151.5 934.9L3149.5 923.4L3147.2 911.9L3144.7 900.5L3142 889L3139 877.6L3135.8 866.2L3132.3 854.8L3128.6 843.4L3124.7 832.1L3120.5 820.7L3116.1 809.4L3111.5 798.1L3106.6 786.9L3101.4 775.7L3096.1 764.5L3090.4 753.3L3084.6 742.2L3078.4 731.1L3072.1 720L3065.5 709L3058.6 698L3051.5 687.1L3044.1 676.2L3036.5 665.3L3028.7 654.5L3020.6 643.7L3012.2 633L3003.6 622.3L2994.7 611.7L2985.5 601.2L2976.1 590.6L2966.5 580.2L2956.5 569.8L2946.3 559.4L2935.8 549.2L2925.1 538.9L2914.1 528.8L2902.8 518.7L2891.2 508.7L2879.4 498.7L2867.2 488.8L2854.8 479L2842.1 469.3L2829.1 459.6L2815.8 450.1L2802.1 440.6L2788.2 431.1L2774 421.8L2759.4 412.6L2744.5 403.4L2729.3 394.4L2713.7 385.4L2697.8 376.5L2681.5 367.8L2664.8 359.1L2647.8 350.6L2630.4 342.1L2612.5 333.8L2594.3 325.6L2575.6 317.5L2556.5 309.5L2536.9 301.6L2516.8 293.9L2496.2 286.3L2475.1 278.9L2453.4 271.6L2431 264.5L2408 257.5L2384.3 250.7L2359.9 244.1L2334.5 237.6L2308.3 231.4L2281 225.3L2252.6 219.5L2222.8 213.9L2191.4 208.6L2158 203.6L2122.2 198.9L2083.1 194.6L2039.1 190.8L1986.6 187.5L1896.9 185.4"/>
<path d="M1896.9 1868.8L1956.7 1866.7L1991.7 1863.4L2021 1859.6L2047.1 1855.3L2071 1850.6L2093.2 1845.6L2114.2 1840.3L2134 1834.7L2153 1828.9L2171.2 1822.8L2188.7 1816.6L2205.5 1810.1L2221.9 1803.5L2237.7 1796.7L2253 1789.7L2267.9 1782.6L2282.4 1775.3L2296.5 1767.9L2310.2 1760.3L2323.6 1752.6L2336.6 1744.7L2349.4 1736.7L2361.8 1728.6L2374 1720.4L2385.9 1712.1L2397.5 1703.6L2408.9 1695.1L2420 1686.4L2430.8 1677.7L2441.4 1668.8L2451.8 1659.8L2462 1650.8L2471.9 1641.6L2481.6 1632.4L2491.1 1623.1L2500.4 1613.6L2509.5 1604.1L2518.4 1594.6L2527 1584.9L2535.5 1575.2L2543.8 1565.4L2551.9 1555.5L2559.8 1545.5L2567.5 1535.5L2575 1525.4L2582.4 1515.3L2589.5 1505L2596.5 1494.8L2603.3 1484.4L2609.9 1474L2616.4 1463.6L2622.7 1453L2628.8 1442.5L2634.7 1431.9L2640.4 1421.2L2646 1410.5L2651.4 1399.7L2656.7 1388.9L2661.7 1378L2666.6 1367.1L2671.4 1356.2L2676 1345.2L2680.4 1334.2L2684.6 1323.1L2688.7 1312L2692.6 1300.9L2696.3 1289.7L2699.9 1278.5L2703.4 1267.3L2706.6 1256.1L2709.7 1244.8L2712.7 1233.5L2715.5 1222.1L2718.1 1210.8L2720.5 1199.4L2722.8 1188L2725 1176.6L2727 1165.2L2728.8 1153.7L2730.4 1142.3L2731.9 1130.8L2733.3 1119.3L2734.5 1107.8L2735.5 1096.3L2736.4 1084.8L2737.1 1073.2L2737.6 1061.7L2738 1050.2L2738.3 1038.6L2738.4 1027.1L2738.3 1015.6L2738 1004L2737.6 992.5L2737.1 981L2736.4 969.4L2735.5 957.9L2734.5 946.4L2733.3 934.9L2731.9 923.4L2730.4 911.9L2728.8 900.5L2727 889L2725 877.6L2722.8 866.2L2720.5 854.8L2718.1 843.4L2715.5 832.1L2712.7 820.7L2709.7 809.4L2706.6 798.1L2703.4 786.9L2699.9 775.7L2696.3 764.5L2692.6 753.3L2688.7 742.2L2684.6 731.1L2680.4 720L2676 709L2671.4 698L2666.6 687.1L2661.7 676.2L2656.7 665.3L2651.4 654.5L2646 643.7L2640.4 633L2634.7 622.3L2628.8 611.7L2622.7 601.2L2616.4 590.6L2609.9 580.2L2603.3 569.8L2596.5 559.4L2589.5 549.2L2582.4 538.9L2575 528.8L2567.5 518.7L2559.8 508.7L2551.9 498.7L2543.8 488.8L2535.5 479L2527 469.3L2518.4 459.6L2509.5 450.1L2500.4 440.6L2491.1 431.1L2481.6 421.8L2471.9 412.6L2462 403.4L2451.8 394.4L2441.4 385.4L2430.8 376.5L2420 367.8L2408.9 359.1L2397.5 350.6L2385.9 342.1L2374 333.8L2361.8 325.6L2349.4 317.5L2336.6 309.5L2323.6 301.6L2310.2 293.9L2296.5 286.3L2282.4 278.9L2267.9 271.6L2253 264.5L2237.7 257.5L2221.9 250.7L2205.5 244.1L2188.7 237.6L2171.2 231.4L2153 225.3L2134 219.5L2114.2 213.9L2093.2 208.6L2071 203.6L2047.1 198.9L2021 194.6L1991.7 190.8L1956.7 187.5L1896.9 185.4"/>
<path d="M1896.9 1868.8L1926.8 1866.7L1944.3 1863.4L1959 1859.6L1972 1855.3L1984 1850.6L1995.1 1845.6L2005.5 1840.3L2015.5 1834.7L2025 1828.9L2034.1 1822.8L2042.8 1816.6L2051.2 1810.1L2059.4 1803.5L2067.3 1796.7L2075 1789.7L2082.4 1782.6L2089.6 1775.3L2096.7 1767.9L2103.6 1760.3L2110.3 1752.6L2116.8 1744.7L2123.2 1736.7L2129.4 1728.6L2135.5 1720.4L2141.4 1712.1L2147.2 1703.6L2152.9 1695.1L2158.4 1686.4L2163.9 1677.7L2169.2 1668.8L2174.4 1659.8L2179.5 1650.8L2184.4 1641.6L2189.3 1632.4L2194 1623.1L2198.7 1613.6L2203.2 1604.1L2207.6 1594.6L2212 1584.9L2216.2 1575.2L2220.4 1565.4L2224.4 1555.5L2228.4 1545.5L2232.2 1535.5L2236 1525.4L2239.7 1515.3L2243.2 1505L2246.7 1494.8L2250.1 1484.4L2253.4 1474L2256.7 1463.6L2259.8 1453L2262.8 1442.5L2265.8 1431.9L2268.7 1421.2L2271.5 1410.5L2274.2 1399.7L2276.8 1388.9L2279.3 1378L2281.8 1367.1L2284.2 1356.2L2286.4 1345.2L2288.6 1334.2L2290.8 1323.1L2292.8 1312L2294.8 1300.9L2296.6 1289.7L2298.4 1278.5L2300.1 1267.3L2301.8 1256.1L2303.3 1244.8L2304.8 1233.5L2306.2 1222.1L2307.5 1210.8L2308.7 1199.4L2309.9 1188L2311 1176.6L2311.9 1165.2L2312.9 1153.7L2313.7 1142.3L2314.4 1130.8L2315.1 1119.3L2315.7 1107.8L2316.2 1096.3L2316.7 1084.8L2317 1073.2L2317.3 1061.7L2317.5 1050.2L2317.6 1038.6L2317.6 1027.1L2317.6 1015.6L2317.5 1004L2317.3 992.5L2317 981L2316.7 969.4L2316.2 957.9L2315.7 946.4L2315.1 934.9L2314.4 923.4L2313.7 911.9L2312.9 900.5L2311.9 889L2311 877.6L2309.9 866.2L2308.7 854.8L2307.5 843.4L2306.2 832.1L2304.8 820.7L2303.3 809.4L2301.8 798.1L2300.1 786.9L2298.4 775.7L2296.6 764.5L2294.8 753.3L2292.8 742.2L2290.8 731.1L2288.6 720L2286.4 709L2284.2 698L2281.8 687.1L2279.3 676.2L2276.8 665.3L2274.2 654.5L2271.5 643.7L2268.7 633L2265.8 622.3L2262.8 611.7L2259.8 601.2L2256.7 590.6L2253.4 580.2L2250.1 569.8L2246.7 559.4L2243.2 549.2L2239.7 538.9L2236 528.8L2232.2 518.7L2228.4 508.7L2224.4 498.7L2220.4 488.8L2216.2 479L2212 469.3L2207.6 459.6L2203.2 450.1L2198.7 440.6L2194 431.1L2189.3 421.8L2184.4 412.6L2179.5 403.4L2174.4 394.4L2169.2 385.4L2163.9 376.5L2158.4 367.8L2152.9 359.1L2147.2 350.6L2141.4 342.1L2135.5 333.8L2129.4 325.6L2123.2 317.5L2116.8 309.5L2110.3 301.6L2103.6 293.9L2096.7 286.3L2089.6 278.9L2082.4 271.6L2075 264.5L2067.3 257.5L2059.4 250.7L2051.2 244.1L2042.8 237.6L2034.1 231.4L2025 225.3L2015.5 219.5L2005.5 213.9L1995.1 208.6L1984 203.6L1972 198.9L1959 194.6L1944.3 190.8L1926.8 187.5L1896.9 185.4"/>
<path d="M1896.9 1868.8L1896.9 1866.7L1896.9 1863.4L1896.9 1859.6L1896.9 1855.3L1896.9 1850.6L1896.9 1845.6L1896.9 1840.3L1896.9 1834.7L1896.9 1828.9L1896.9 1822.8L1896.9 1816.6L1896.9 1810.1L1896.9 1803.5L1896.9 1796.7L1896.9 1789.7L1896.9 1782.6L1896.9 1775.3L1896.9 1767.9L1896.9 1760.3L1896.9 1752.6L1896.9 1744.7L1896.9 1736.7L1896.9 1728.6L1896.9 1720.4L1896.9 1712.1L1896.9 1703.6L1896.9 1695.1L1896.9 1686.4L1896.9 1677.7L1896.9 1668.8L1896.9 1659.8L1896.9 1650.8L1896.9 1641.6L1896.9 1632.4L1896.9 1623.1L1896.9 1613.6L1896.9 1604.1L1896.9 1594.6L1896.9 1584.9L1896.9 1575.2L1896.9 1565.4L1896.9 1555.5L1896.9 1545.5L1896.9 1535.5L1896.9 1525.4L1896.9 1515.3L1896.9 1505L1896.9 1494.8L1896.9 1484.4L1896.9 1474L1896.9 1463.6L1896.9 1453L1896.9 1442.5L1896.9 1431.9L1896.9 1421.2L1896.9 1410.5L1896.9 1399.7L1896.9 1388.9L1896.9 1378L1896.9 1367.1L1896.9 1356.2L1896.9 1345.2L1896.9 1334.2L1896.9 1323.1L1896.9 1312L1896.9 1300.9L1896.9 1289.7L1896.9 1278.5L1896.9 1267.3L1896.9 1256.1L1896.9 1244.8L1896.9 1233.5L1896.9 1222.1L1896.9 1210.8L1896.9 1199.4L1896.9 1188L1896.9 1176.6L1896.9 1165.2L1896.9 1153.7L1896.9 1142.3L1896.9 1130.8L1896.9 1119.3L1896.9 1107.8L1896.9 1096.3L1896.9 1084.8L1896.9 1073.2L1896.9 1061.7L1896.9 1050.2L1896.9 1038.6L1896.9 1027.1L1896.9 1015.6L1896.9 1004L1896.9 992.5L1896.9 981L1896.9 969.4L1896.9 957.9L1896.9 946.4L1896.9 934.9L1896.9 923.4L1896.9 911.9L1896.9 900.5L1896.9 889L1896.9 877.6L1896.9 866.2L1896.9 854.8L1896.9 843.4L1896.9 832.1L1896.9 820.7L1896.9 809.4L1896.9 798.1L1896.9 786.9L1896.9 775.7L1896.9 764.5L1896.9 753.3L1896.9 742.2L1896.9 731.1L1896.9 720L1896.9 709L1896.9 698L1896.9 687.1L1896.9 676.2L1896.9 665.3L1896.9 654.5L1896.9 643.7L1896.9 633L1896.9 622.3L1896.9 611.7L1896.9 601.2L1896.9 590.6L1896.9 580.2L1896.9 569.8L1896.9 559.4L1896.9 549.2L1896.9 538.9L1896.9 528.8L1896.9 518.7L1896.9 508.7L1896.9 498.7L1896.9 488.8L1896.9 479L1896.9 469.3L1896.9 459.6L1896.9 450.1L1896.9 440.6L1896.9 431.1L1896.9 421.8L1896.9 412.6L1896.9 403.4L1896.9 394.4L1896.9 385.4L1896.9 376.5L1896.9 367.8L1896.9 359.1L1896.9 350.6L1896.9 342.1L1896.9 333.8L1896.9 325.6L1896.9 317.5L1896.9 309.5L1896.9 301.6L1896.9 293.9L1896.9 286.3L1896.9 278.9L1896.9 271.6L1896.9 264.5L1896.9 257.5L1896.9 250.7L1896.9 244.1L1896.9 237.6L1896.9 231.4L1896.9 225.3L1896.9 219.5L1896.9 213.9L1896.9 208.6L1896.9 203.6L1896.9 198.9L1896.9 194.6L1896.9 190.8L1896.9 187.5L1896.9 185.4"/>
<path d="M1896.9 1868.8L1867 1866.7L1849.5 1863.4L1834.9 1859.6L1821.8 1855.3L1809.9 1850.6L1798.8 1845.6L1788.3 1840.3L1778.4 1834.7L1768.9 1828.9L1759.8 1822.8L1751.1 1816.6L1742.6 1810.1L1734.5 1803.5L1726.6 1796.7L1718.9 1789.7L1711.5 1782.6L1704.2 1775.3L1697.2 1767.9L1690.3 1760.3L1683.6 1752.6L1677.1 1744.7L1670.7 1736.7L1664.5 1728.6L1658.4 1720.4L1652.4 1712.1L1646.6 1703.6L1641 1695.1L1635.4 1686.4L1630 1677.7L1624.7 1668.8L1619.5 1659.8L1614.4 1650.8L1609.4 1641.6L1604.6 1632.4L1599.8 1623.1L1595.2 1613.6L1590.7 1604.1L1586.2 1594.6L1581.9 1584.9L1577.6 1575.2L1573.5 1565.4L1569.4 1555.5L1565.5 1545.5L1561.6 1535.5L1557.9 1525.4L1554.2 1515.3L1550.6 1505L1547.1 1494.8L1543.7 1484.4L1540.4 1474L1537.2 1463.6L1534.1 1453L1531 1442.5L1528.1 1431.9L1525.2 1421.2L1522.4 1410.5L1519.7 1399.7L1517.1 1388.9L1514.5 1378L1512.1 1367.1L1509.7 1356.2L1507.4 1345.2L1505.2 1334.2L1503.1 1323.1L1501.1 1312L1499.1 1300.9L1497.2 1289.7L1495.4 1278.5L1493.7 1267.3L1492.1 1256.1L1490.5 1244.8L1489.1 1233.5L1487.7 1222.1L1486.4 1210.8L1485.1 1199.4L1484 1188L1482.9 1176.6L1481.9 1165.2L1481 1153.7L1480.2 1142.3L1479.4 1130.8L1478.7 1119.3L1478.2 1107.8L1477.6 1096.3L1477.2 1084.8L1476.9 1073.2L1476.6 1061.7L1476.4 1050.2L1476.3 1038.6L1476.2 1027.1L1476.3 1015.6L1476.4 1004L1476.6 992.5L1476.9 981L1477.2 969.4L1477.6 957.9L1478.2 946.4L1478.7 934.9L1479.4 923.4L1480.2 911.9L1481 900.5L1481.9 889L1482.9 877.6L1484 866.2L1485.1 854.8L1486.4 843.4L1487.7 832.1L1489.1 820.7L1490.5 809.4L1492.1 798.1L1493.7 786.9L1495.4 775.7L1497.2 764.5L1499.1 753.3L1501.1 742.2L1503.1 731.1L1505.2 720L1507.4 709L1509.7 698L1512.1 687.1L1514.5 676.2L1517.1 665.3L1519.7 654.5L1522.4 643.7L1525.2 633L1528.1 622.3L1531 611.7L1534.1 601.2L1537.2 590.6L1540.4 580.2L1543.7 569.8L1547.1 559.4L1550.6 549.2L1554.2 538.9L1557.9 528.8L1561.6 518.7L1565.5 508.7L1569.4 498.7L1573.5 488.8L1577.6 479L1581.9 469.3L1586.2 459.6L1590.7 450.1L1595.2 440.6L1599.8 431.1L1604.6 421.8L1609.4 412.6L1614.4 403.4L1619.5 394.4L1624.7 385.4L1630 376.5L1635.4 367.8L1641 359.1L1646.6 350.6L1652.4 342.1L1658.4 333.8L1664.5 325.6L1670.7 317.5L1677.1 309.5L1683.6 301.6L1690.3 293.9L1697.2 286.3L1704.2 278.9L1711.5 271.6L1718.9 264.5L1726.6 257.5L1734.5 250.7L1742.6 244.1L1751.1 237.6L1759.8 231.4L1768.9 225.3L1778.4 219.5L1788.3 213.9L1798.8 208.6L1809.9 203.6L1821.8 198.9L1834.9 194.6L1849.5 190.8L1867 187.5L1896.9 185.4"/>
<path d="M1896.9 1868.8L1837.2 1866.7L1802.1 1863.4L1772.8 1859.6L1746.8 1855.3L1722.9 1850.6L1700.6 1845.6L1679.7 1840.3L1659.8 1834.7L1640.9 1828.9L1622.7 1822.8L1605.2 1816.6L1588.3 1810.1L1572 1803.5L1556.2 1796.7L1540.9 1789.7L1526 1782.6L1511.5 1775.3L1497.4 1767.9L1483.7 1760.3L1470.3 1752.6L1457.2 1744.7L1444.5 1736.7L1432 1728.6L1419.9 1720.4L1408 1712.1L1396.4 1703.6L1385 1695.1L1373.9 1686.4L1363 1677.7L1352.4 1668.8L1342 1659.8L1331.9 1650.8L1322 1641.6L1312.2 1632.4L1302.7 1623.1L1293.5 1613.6L1284.4 1604.1L1275.5 1594.6L1266.8 1584.9L1258.3 1575.2L1250.1 1565.4L1242 1555.5L1234.1 1545.5L1226.3 1535.5L1218.8 1525.4L1211.5 1515.3L1204.3 1505L1197.3 1494.8L1190.5 1484.4L1183.9 1474L1177.5 1463.6L1171.2 1453L1165.1 1442.5L1159.2 1431.9L1153.4 1421.2L1147.8 1410.5L1142.4 1399.7L1137.2 1388.9L1132.1 1378L1127.2 1367.1L1122.5 1356.2L1117.9 1345.2L1113.5 1334.2L1109.3 1323.1L1105.2 1312L1101.3 1300.9L1097.5 1289.7L1093.9 1278.5L1090.5 1267.3L1087.2 1256.1L1084.1 1244.8L1081.2 1233.5L1078.4 1222.1L1075.8 1210.8L1073.3 1199.4L1071 1188L1068.9 1176.6L1066.9 1165.2L1065.1 1153.7L1063.4 1142.3L1061.9 1130.8L1060.6 1119.3L1059.4 1107.8L1058.4 1096.3L1057.5 1084.8L1056.8 1073.2L1056.2 1061.7L1055.8 1050.2L1055.6 1038.6L1055.5 1027.1L1055.6 1015.6L1055.8 1004L1056.2 992.5L1056.8 981L1057.5 969.4L1058.4 957.9L1059.4 946.4L1060.6 934.9L1061.9 923.4L1063.4 911.9L1065.1 900.5L1066.9 889L1068.9 877.6L1071 866.2L1073.3 854.8L1075.8 843.4L1078.4 832.1L1081.2 820.7L1084.1 809.4L1087.2 798.1L1090.5 786.9L1093.9 775.7L1097.5 764.5L1101.3 753.3L1105.2 742.2L1109.3 731.1L1113.5 720L1117.9 709L1122.5 698L1127.2 687.1L1132.1 676.2L1137.2 665.3L1142.4 654.5L1147.8 643.7L1153.4 633L1159.2 622.3L1165.1 611.7L1171.2 601.2L1177.5 590.6L1183.9 580.2L1190.5 569.8L1197.3 559.4L1204.3 549.2L1211.5 538.9L1218.8 528.8L1226.3 518.7L1234.1 508.7L1242 498.7L1250.1 488.8L1258.3 479L1266.8 469.3L1275.5 459.6L1284.4 450.1L1293.5 440.6L1302.7 431.1L1312.2 421.8L1322 412.6L1331.9 403.4L1342 394.4L1352.4 385.4L1363 376.5L1373.9 367.8L1385 359.1L1396.4 350.6L1408 342.1L1419.9 333.8L1432 325.6L1444.5 317.5L1457.2 309.5L1470.3 301.6L1483.7 293.9L1497.4 286.3L1511.5 278.9L1526 271.6L1540.9 264.5L1556.2 257.5L1572 250.7L1588.3 244.1L1605.2 237.6L1622.7 231.4L1640.9 225.3L1659.8 219.5L1679.7 213.9L1700.6 208.6L1722.9 203.6L1746.8 198.9L1772.8 194.6L1802.1 190.8L1837.2 187.5L1896.9 185.4"/>
<path d="M1896.9 1868.8L1807.3 1866.7L1754.7 1863.4L1710.8 1859.6L1671.7 1855.3L1635.9 1850.6L1602.5 1845.6L1571.1 1840.3L1541.3 1834.7L1512.8 1828.9L1485.6 1822.8L1459.3 1816.6L1434 1810.1L1409.5 1803.5L1385.8 1796.7L1362.8 1789.7L1340.5 1782.6L1318.8 1775.3L1297.6 1767.9L1277 1760.3L1256.9 1752.6L1237.4 1744.7L1218.2 1736.7L1199.6 1728.6L1181.3 1720.4L1163.5 1712.1L1146.1 1703.6L1129 1695.1L1112.4 1686.4L1096.1 1677.7L1080.2 1668.8L1064.6 1659.8L1049.4 1650.8L1034.5 1641.6L1019.9 1632.4L1005.6 1623.1L991.7 1613.6L978.1 1604.1L964.8 1594.6L951.8 1584.9L939 1575.2L926.6 1565.4L914.5 1555.5L902.6 1545.5L891.1 1535.5L879.8 1525.4L868.8 1515.3L858 1505L847.5 1494.8L837.3 1484.4L827.4 1474L817.7 1463.6L808.3 1453L799.2 1442.5L790.3 1431.9L781.7 1421.2L773.3 1410.5L765.2 1399.7L757.3 1388.9L749.7 1378L742.4 1367.1L735.3 1356.2L728.4 1345.2L721.8 1334.2L715.4 1323.1L709.3 1312L703.4 1300.9L697.8 1289.7L692.4 1278.5L687.3 1267.3L682.4 1256.1L677.7 1244.8L673.3 1233.5L669.1 1222.1L665.2 1210.8L661.5 1199.4L658.1 1188L654.9 1176.6L651.9 1165.2L649.2 1153.7L646.7 1142.3L644.4 1130.8L642.4 1119.3L640.6 1107.8L639.1 1096.3L637.8 1084.8L636.7 1073.2L635.9 1061.7L635.3 1050.2L634.9 1038.6L634.8 1027.1L634.9 1015.6L635.3 1004L635.9 992.5L636.7 981L637.8 969.4L639.1 957.9L640.6 946.4L642.4 934.9L644.4 923.4L646.7 911.9L649.2 900.5L651.9 889L654.9 877.6L658.1 866.2L661.5 854.8L665.2 843.4L669.1 832.1L673.3 820.7L677.7 809.4L682.4 798.1L687.3 786.9L692.4 775.7L697.8 764.5L703.4 753.3L709.3 742.2L715.4 731.1L721.8 720L728.4 709L735.3 698L742.4 687.1L749.7 676.2L757.3 665.3L765.2 654.5L773.3 643.7L781.7 633L790.3 622.3L799.2 611.7L808.3 601.2L817.7 590.6L827.4 580.2L837.3 569.8L847.5 559.4L858 549.2L868.8 538.9L879.8 528.8L891.1 518.7L902.6 508.7L914.5 498.7L926.6 488.8L939 479L951.8 469.3L964.8 459.6L978.1 450.1L991.7 440.6L1005.6 431.1L1019.9 421.8L1034.5 412.6L1049.4 403.4L1064.6 394.4L1080.2 385.4L1096.1 376.5L1112.4 367.8L1129 359.1L1146.1 350.6L1163.5 342.1L1181.3 333.8L1199.6 325.6L1218.2 317.5L1237.4 309.5L1256.9 301.6L1277 293.9L1297.6 286.3L1318.8 278.9L1340.5 271.6L1362.8 264.5L1385.8 257.5L1409.5 250.7L1434 244.1L1459.3 237.6L1485.6 231.4L1512.8 225.3L1541.3 219.5L1571.1 213.9L1602.5 208.6L1635.9 203.6L1671.7 198.9L1710.8 194.6L1754.7 190.8L1807.3 187.5L1896.9 185.4"/>
<path d="M2986.1 1668.8L806.9 1668.8"/>
<path d="M3436.7 1367.1L356.3 1367.1"/>
<path d="M3580.2 1027.1L212.8 1027.1"/>
<path d="M3436.7 687.1L356.3 687.1"/>
<path d="M2986.1 385.4L806.9 385.4"/>
</g>
<ellipse cx="1896.5" cy="1027.1" rx="1683.7" ry="841.7" fill="none" stroke="#000" stroke-width="6.67"/>
<path d="M634.8 1027.1V1056.5M1055.5 1027.1V1056.5M1476.2 1027.1V1056.5M1896.9 1027.1V1056.5M2317.6 1027.1V1056.5M2738.4 1027.1V1056.5M3159.1 1027.1V1056.5M356.3 1367.1H327.3M806.9 1668.8H777.9M3577.2 1027.3H3583.8" fill="none" stroke="#000" stroke-width="6.67"/>
<g font-family="&quot;Liberation Sans&quot;, sans-serif" fill="#000">
<text x="1895" y="135.7" font-size="104" text-anchor="middle">GRB210309999, Sector 36, Enclosed prob 0.057</text>
<g font-size="83.3" text-anchor="middle">
<text x="212.8" y="1150.1">0<tspan font-size="58" dy="-33">h</tspan></text>
<text x="634.8" y="1150.1">21<tspan font-size="58" dy="-33">h</tspan></text>
<text x="1055.5" y="1150.1">18<tspan font-size="58" dy="-33">h</tspan></text>
<text x="1476.2" y="1150.1">15<tspan font-size="58" dy="-33">h</tspan></text>
<text x="1896.9" y="1150.1">12<tspan font-size="58" dy="-33">h</tspan></text>
<text x="2317.6" y="1150.1">9<tspan font-size="58" dy="-33">h</tspan></text>
<text x="2738.4" y="1150.1">6<tspan font-size="58" dy="-33">h</tspan></text>
<text x="3159.1" y="1150.1">3<tspan font-size="58" dy="-33">h</tspan></text>
<text x="3580.2" y="1150.1">0<tspan font-size="58" dy="-33">h</tspan></text>
<text x="743" y="321">60°</text>
<text x="226" y="664.8">30°</text>
<text x="105.6" y="1050.8">0°</text>
<text x="210" y="1434.9">-30°</text>
<text x="733" y="1778">-60°</text>
<text x="3048" y="322.2">60°</text>
<text x="3538" y="636.2">30°</text>
<text x="3670.5" y="972.4">0°</text>
<text x="3579" y="1434.8">-30°</text>
<text x="3056" y="1778">-60°</text>
</g>
</g>
</svg></body></html>
